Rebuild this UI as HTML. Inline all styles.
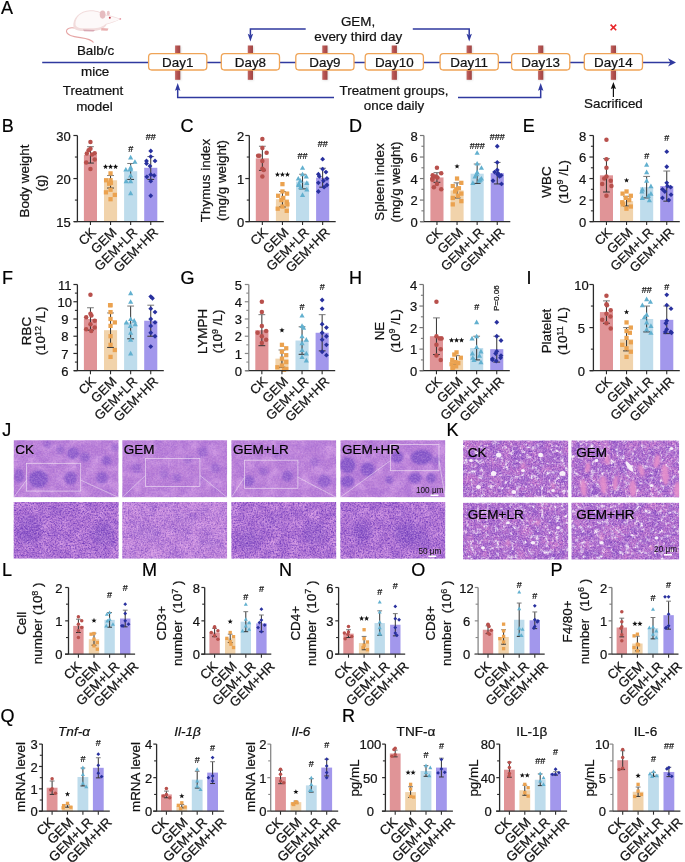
<!DOCTYPE html><html><head><meta charset="utf-8"><style>html,body{margin:0;padding:0;background:#fff;}svg{display:block;will-change:transform;font-family:"Liberation Sans",sans-serif;} text{stroke:#111;stroke-width:0.22px;paint-order:stroke;}</style></head><body><svg width="685" height="862" viewBox="0 0 685 862" font-family="Liberation Sans, sans-serif">
<defs>
<linearGradient id="rb" x1="0" x2="1" y1="0" y2="0"><stop offset="0" stop-color="#c06662"/><stop offset="0.5" stop-color="#b24f4d"/><stop offset="1" stop-color="#9e4644"/></linearGradient>
<filter id="blur3" x="-20%" y="-20%" width="140%" height="140%"><feGaussianBlur stdDeviation="0.9"/></filter>
<filter id="blur4" x="-30%" y="-30%" width="160%" height="160%"><feGaussianBlur stdDeviation="3"/></filter><filter id="blur05" x="-30%" y="-30%" width="160%" height="160%"><feGaussianBlur stdDeviation="0.45"/></filter><filter id="blur1" x="-20%" y="-20%" width="140%" height="140%"><feGaussianBlur stdDeviation="0.8"/></filter>
<filter id="nf0" x="0" y="0" width="100%" height="100%" color-interpolation-filters="sRGB"><feTurbulence type="fractalNoise" baseFrequency="0.08" numOctaves="3" seed="0" result="t0"/><feColorMatrix in="t0" type="matrix" values="0 0 0 0 0.667 0 0 0 0 0.439 0 0 0 0 0.831 1.5 0 0 0 -0.55" result="m0"/><feTurbulence type="fractalNoise" baseFrequency="0.09" numOctaves="3" seed="1" result="t1"/><feColorMatrix in="t1" type="matrix" values="0 0 0 0 0.855 0 0 0 0 0.647 0 0 0 0 0.910 0 1.7 0 0 -0.7" result="m1"/><feMerge><feMergeNode in="m0"/><feMergeNode in="m1"/></feMerge></filter>
<filter id="nf1" x="0" y="0" width="100%" height="100%" color-interpolation-filters="sRGB"><feTurbulence type="fractalNoise" baseFrequency="0.6" numOctaves="2" seed="250" result="t0"/><feColorMatrix in="t0" type="matrix" values="0 0 0 0 0.588 0 0 0 0 0.373 0 0 0 0 0.824 0 0 0.8 0 -0.3" result="m0"/><feTurbulence type="fractalNoise" baseFrequency="0.6" numOctaves="2" seed="251" result="t1"/><feColorMatrix in="t1" type="matrix" values="0 0 0 0 0.871 0 0 0 0 0.698 0 0 0 0 0.925 0.8 0 0 0 -0.3" result="m1"/><feMerge><feMergeNode in="m0"/><feMergeNode in="m1"/></feMerge></filter>
<filter id="nf2" x="0" y="0" width="100%" height="100%" color-interpolation-filters="sRGB"><feTurbulence type="fractalNoise" baseFrequency="0.08" numOctaves="3" seed="5" result="t0"/><feColorMatrix in="t0" type="matrix" values="0 0 0 0 0.667 0 0 0 0 0.439 0 0 0 0 0.831 1.5 0 0 0 -0.55" result="m0"/><feTurbulence type="fractalNoise" baseFrequency="0.09" numOctaves="3" seed="6" result="t1"/><feColorMatrix in="t1" type="matrix" values="0 0 0 0 0.855 0 0 0 0 0.647 0 0 0 0 0.910 0 1.7 0 0 -0.7" result="m1"/><feMerge><feMergeNode in="m0"/><feMergeNode in="m1"/></feMerge></filter>
<filter id="nf3" x="0" y="0" width="100%" height="100%" color-interpolation-filters="sRGB"><feTurbulence type="fractalNoise" baseFrequency="0.6" numOctaves="2" seed="255" result="t0"/><feColorMatrix in="t0" type="matrix" values="0 0 0 0 0.588 0 0 0 0 0.373 0 0 0 0 0.824 0 0 0.8 0 -0.3" result="m0"/><feTurbulence type="fractalNoise" baseFrequency="0.6" numOctaves="2" seed="256" result="t1"/><feColorMatrix in="t1" type="matrix" values="0 0 0 0 0.871 0 0 0 0 0.698 0 0 0 0 0.925 0.8 0 0 0 -0.3" result="m1"/><feMerge><feMergeNode in="m0"/><feMergeNode in="m1"/></feMerge></filter>
<filter id="nf4" x="0" y="0" width="100%" height="100%" color-interpolation-filters="sRGB"><feTurbulence type="fractalNoise" baseFrequency="0.08" numOctaves="3" seed="10" result="t0"/><feColorMatrix in="t0" type="matrix" values="0 0 0 0 0.667 0 0 0 0 0.439 0 0 0 0 0.831 1.5 0 0 0 -0.55" result="m0"/><feTurbulence type="fractalNoise" baseFrequency="0.09" numOctaves="3" seed="11" result="t1"/><feColorMatrix in="t1" type="matrix" values="0 0 0 0 0.855 0 0 0 0 0.647 0 0 0 0 0.910 0 1.7 0 0 -0.7" result="m1"/><feMerge><feMergeNode in="m0"/><feMergeNode in="m1"/></feMerge></filter>
<filter id="nf5" x="0" y="0" width="100%" height="100%" color-interpolation-filters="sRGB"><feTurbulence type="fractalNoise" baseFrequency="0.6" numOctaves="2" seed="260" result="t0"/><feColorMatrix in="t0" type="matrix" values="0 0 0 0 0.588 0 0 0 0 0.373 0 0 0 0 0.824 0 0 0.8 0 -0.3" result="m0"/><feTurbulence type="fractalNoise" baseFrequency="0.6" numOctaves="2" seed="261" result="t1"/><feColorMatrix in="t1" type="matrix" values="0 0 0 0 0.871 0 0 0 0 0.698 0 0 0 0 0.925 0.8 0 0 0 -0.3" result="m1"/><feMerge><feMergeNode in="m0"/><feMergeNode in="m1"/></feMerge></filter>
<filter id="nf6" x="0" y="0" width="100%" height="100%" color-interpolation-filters="sRGB"><feTurbulence type="fractalNoise" baseFrequency="0.08" numOctaves="3" seed="15" result="t0"/><feColorMatrix in="t0" type="matrix" values="0 0 0 0 0.667 0 0 0 0 0.439 0 0 0 0 0.831 1.5 0 0 0 -0.55" result="m0"/><feTurbulence type="fractalNoise" baseFrequency="0.09" numOctaves="3" seed="16" result="t1"/><feColorMatrix in="t1" type="matrix" values="0 0 0 0 0.855 0 0 0 0 0.647 0 0 0 0 0.910 0 1.7 0 0 -0.7" result="m1"/><feMerge><feMergeNode in="m0"/><feMergeNode in="m1"/></feMerge></filter>
<filter id="nf7" x="0" y="0" width="100%" height="100%" color-interpolation-filters="sRGB"><feTurbulence type="fractalNoise" baseFrequency="0.6" numOctaves="2" seed="265" result="t0"/><feColorMatrix in="t0" type="matrix" values="0 0 0 0 0.588 0 0 0 0 0.373 0 0 0 0 0.824 0 0 0.8 0 -0.3" result="m0"/><feTurbulence type="fractalNoise" baseFrequency="0.6" numOctaves="2" seed="266" result="t1"/><feColorMatrix in="t1" type="matrix" values="0 0 0 0 0.871 0 0 0 0 0.698 0 0 0 0 0.925 0.8 0 0 0 -0.3" result="m1"/><feMerge><feMergeNode in="m0"/><feMergeNode in="m1"/></feMerge></filter>
<filter id="nf8" x="0" y="0" width="100%" height="100%" color-interpolation-filters="sRGB"><feTurbulence type="fractalNoise" baseFrequency="0.1" numOctaves="3" seed="20" result="t0"/><feColorMatrix in="t0" type="matrix" values="0 0 0 0 0.588 0 0 0 0 0.373 0 0 0 0 0.804 1.5 0 0 0 -0.5" result="m0"/><feTurbulence type="fractalNoise" baseFrequency="0.1" numOctaves="3" seed="21" result="t1"/><feColorMatrix in="t1" type="matrix" values="0 0 0 0 0.871 0 0 0 0 0.647 0 0 0 0 0.910 0 1.8 0 0 -0.65" result="m1"/><feMerge><feMergeNode in="m0"/><feMergeNode in="m1"/></feMerge></filter>
<filter id="nf9" x="0" y="0" width="100%" height="100%" color-interpolation-filters="sRGB"><feTurbulence type="fractalNoise" baseFrequency="0.6" numOctaves="2" seed="270" result="t0"/><feColorMatrix in="t0" type="matrix" values="0 0 0 0 0.439 0 0 0 0 0.227 0 0 0 0 0.729 0 0 2.2 0 -0.8" result="m0"/><feTurbulence type="fractalNoise" baseFrequency="0.7" numOctaves="2" seed="271" result="t1"/><feColorMatrix in="t1" type="matrix" values="0 0 0 0 0.871 0 0 0 0 0.651 0 0 0 0 0.918 1.4 0 0 0 -0.55" result="m1"/><feMerge><feMergeNode in="m0"/><feMergeNode in="m1"/></feMerge></filter>
<filter id="nf10" x="0" y="0" width="100%" height="100%" color-interpolation-filters="sRGB"><feTurbulence type="fractalNoise" baseFrequency="0.1" numOctaves="3" seed="25" result="t0"/><feColorMatrix in="t0" type="matrix" values="0 0 0 0 0.588 0 0 0 0 0.373 0 0 0 0 0.804 1.5 0 0 0 -0.5" result="m0"/><feTurbulence type="fractalNoise" baseFrequency="0.1" numOctaves="3" seed="26" result="t1"/><feColorMatrix in="t1" type="matrix" values="0 0 0 0 0.871 0 0 0 0 0.647 0 0 0 0 0.910 0 1.8 0 0 -0.65" result="m1"/><feMerge><feMergeNode in="m0"/><feMergeNode in="m1"/></feMerge></filter>
<filter id="nf11" x="0" y="0" width="100%" height="100%" color-interpolation-filters="sRGB"><feTurbulence type="fractalNoise" baseFrequency="0.6" numOctaves="2" seed="275" result="t0"/><feColorMatrix in="t0" type="matrix" values="0 0 0 0 0.471 0 0 0 0 0.267 0 0 0 0 0.745 0 0 1.7 0 -0.68" result="m0"/><feTurbulence type="fractalNoise" baseFrequency="0.7" numOctaves="2" seed="276" result="t1"/><feColorMatrix in="t1" type="matrix" values="0 0 0 0 0.894 0 0 0 0 0.698 0 0 0 0 0.933 1.6 0 0 0 -0.62" result="m1"/><feMerge><feMergeNode in="m0"/><feMergeNode in="m1"/></feMerge></filter>
<filter id="nf12" x="0" y="0" width="100%" height="100%" color-interpolation-filters="sRGB"><feTurbulence type="fractalNoise" baseFrequency="0.1" numOctaves="3" seed="30" result="t0"/><feColorMatrix in="t0" type="matrix" values="0 0 0 0 0.588 0 0 0 0 0.373 0 0 0 0 0.804 1.5 0 0 0 -0.5" result="m0"/><feTurbulence type="fractalNoise" baseFrequency="0.1" numOctaves="3" seed="31" result="t1"/><feColorMatrix in="t1" type="matrix" values="0 0 0 0 0.871 0 0 0 0 0.647 0 0 0 0 0.910 0 1.8 0 0 -0.65" result="m1"/><feMerge><feMergeNode in="m0"/><feMergeNode in="m1"/></feMerge></filter>
<filter id="nf13" x="0" y="0" width="100%" height="100%" color-interpolation-filters="sRGB"><feTurbulence type="fractalNoise" baseFrequency="0.6" numOctaves="2" seed="280" result="t0"/><feColorMatrix in="t0" type="matrix" values="0 0 0 0 0.439 0 0 0 0 0.227 0 0 0 0 0.729 0 0 2.2 0 -0.8" result="m0"/><feTurbulence type="fractalNoise" baseFrequency="0.7" numOctaves="2" seed="281" result="t1"/><feColorMatrix in="t1" type="matrix" values="0 0 0 0 0.871 0 0 0 0 0.651 0 0 0 0 0.918 1.4 0 0 0 -0.55" result="m1"/><feMerge><feMergeNode in="m0"/><feMergeNode in="m1"/></feMerge></filter>
<filter id="nf14" x="0" y="0" width="100%" height="100%" color-interpolation-filters="sRGB"><feTurbulence type="fractalNoise" baseFrequency="0.1" numOctaves="3" seed="35" result="t0"/><feColorMatrix in="t0" type="matrix" values="0 0 0 0 0.588 0 0 0 0 0.373 0 0 0 0 0.804 1.5 0 0 0 -0.5" result="m0"/><feTurbulence type="fractalNoise" baseFrequency="0.1" numOctaves="3" seed="36" result="t1"/><feColorMatrix in="t1" type="matrix" values="0 0 0 0 0.871 0 0 0 0 0.647 0 0 0 0 0.910 0 1.8 0 0 -0.65" result="m1"/><feMerge><feMergeNode in="m0"/><feMergeNode in="m1"/></feMerge></filter>
<filter id="nf15" x="0" y="0" width="100%" height="100%" color-interpolation-filters="sRGB"><feTurbulence type="fractalNoise" baseFrequency="0.6" numOctaves="2" seed="285" result="t0"/><feColorMatrix in="t0" type="matrix" values="0 0 0 0 0.439 0 0 0 0 0.227 0 0 0 0 0.729 0 0 2.2 0 -0.8" result="m0"/><feTurbulence type="fractalNoise" baseFrequency="0.7" numOctaves="2" seed="286" result="t1"/><feColorMatrix in="t1" type="matrix" values="0 0 0 0 0.871 0 0 0 0 0.651 0 0 0 0 0.918 1.4 0 0 0 -0.55" result="m1"/><feMerge><feMergeNode in="m0"/><feMergeNode in="m1"/></feMerge></filter>
<filter id="nf16" x="0" y="0" width="100%" height="100%" color-interpolation-filters="sRGB"><feTurbulence type="fractalNoise" baseFrequency="0.1" numOctaves="3" seed="40" result="t0"/><feColorMatrix in="t0" type="matrix" values="0 0 0 0 0.529 0 0 0 0 0.306 0 0 0 0 0.765 1.5 0 0 0 -0.5" result="m0"/><feTurbulence type="fractalNoise" baseFrequency="0.08" numOctaves="2" seed="41" result="t1"/><feColorMatrix in="t1" type="matrix" values="0 0 0 0 0.863 0 0 0 0 0.510 0 0 0 0 0.804 0 1.6 0 0 -0.65" result="m1"/><feTurbulence type="fractalNoise" baseFrequency="0.2" numOctaves="3" seed="42" result="t2"/><feColorMatrix in="t2" type="matrix" values="0 0 0 0 0.980 0 0 0 0 0.941 0 0 0 0 0.980 0 0 4.2 0 -2.3" result="m2"/><feTurbulence type="fractalNoise" baseFrequency="0.35" numOctaves="2" seed="43" result="t3"/><feColorMatrix in="t3" type="matrix" values="0 0 0 0 0.973 0 0 0 0 0.922 0 0 0 0 0.980 3 0 0 0 -1.72" result="m3"/><feMerge><feMergeNode in="m0"/><feMergeNode in="m1"/><feMergeNode in="m2"/><feMergeNode in="m3"/></feMerge></filter>
<filter id="nf17" x="0" y="0" width="100%" height="100%" color-interpolation-filters="sRGB"><feTurbulence type="fractalNoise" baseFrequency="0.55" numOctaves="2" seed="290" result="t0"/><feColorMatrix in="t0" type="matrix" values="0 0 0 0 0.451 0 0 0 0 0.235 0 0 0 0 0.725 0 1.8 0 0 -0.72" result="m0"/><feTurbulence type="fractalNoise" baseFrequency="0.8" numOctaves="2" seed="291" result="t1"/><feColorMatrix in="t1" type="matrix" values="0 0 0 0 0.922 0 0 0 0 0.765 0 0 0 0 0.941 1.2 0 0 0 -0.5" result="m1"/><feMerge><feMergeNode in="m0"/><feMergeNode in="m1"/></feMerge></filter>
<filter id="nf18" x="0" y="0" width="100%" height="100%" color-interpolation-filters="sRGB"><feTurbulence type="fractalNoise" baseFrequency="0.1" numOctaves="3" seed="45" result="t0"/><feColorMatrix in="t0" type="matrix" values="0 0 0 0 0.529 0 0 0 0 0.306 0 0 0 0 0.765 1.5 0 0 0 -0.5" result="m0"/><feTurbulence type="fractalNoise" baseFrequency="0.08" numOctaves="2" seed="46" result="t1"/><feColorMatrix in="t1" type="matrix" values="0 0 0 0 0.863 0 0 0 0 0.510 0 0 0 0 0.804 0 1.6 0 0 -0.65" result="m1"/><feTurbulence type="fractalNoise" baseFrequency="0.2" numOctaves="3" seed="47" result="t2"/><feColorMatrix in="t2" type="matrix" values="0 0 0 0 0.980 0 0 0 0 0.941 0 0 0 0 0.980 0 0 4.2 0 -2.3" result="m2"/><feTurbulence type="fractalNoise" baseFrequency="0.35" numOctaves="2" seed="48" result="t3"/><feColorMatrix in="t3" type="matrix" values="0 0 0 0 0.973 0 0 0 0 0.922 0 0 0 0 0.980 3 0 0 0 -1.72" result="m3"/><feMerge><feMergeNode in="m0"/><feMergeNode in="m1"/><feMergeNode in="m2"/><feMergeNode in="m3"/></feMerge></filter>
<filter id="nf19" x="0" y="0" width="100%" height="100%" color-interpolation-filters="sRGB"><feTurbulence type="fractalNoise" baseFrequency="0.55" numOctaves="2" seed="295" result="t0"/><feColorMatrix in="t0" type="matrix" values="0 0 0 0 0.451 0 0 0 0 0.235 0 0 0 0 0.725 0 1.8 0 0 -0.72" result="m0"/><feTurbulence type="fractalNoise" baseFrequency="0.8" numOctaves="2" seed="296" result="t1"/><feColorMatrix in="t1" type="matrix" values="0 0 0 0 0.922 0 0 0 0 0.765 0 0 0 0 0.941 1.2 0 0 0 -0.5" result="m1"/><feMerge><feMergeNode in="m0"/><feMergeNode in="m1"/></feMerge></filter>
<filter id="nf20" x="0" y="0" width="100%" height="100%" color-interpolation-filters="sRGB"><feTurbulence type="fractalNoise" baseFrequency="0.1" numOctaves="3" seed="50" result="t0"/><feColorMatrix in="t0" type="matrix" values="0 0 0 0 0.529 0 0 0 0 0.306 0 0 0 0 0.765 1.5 0 0 0 -0.5" result="m0"/><feTurbulence type="fractalNoise" baseFrequency="0.08" numOctaves="2" seed="51" result="t1"/><feColorMatrix in="t1" type="matrix" values="0 0 0 0 0.863 0 0 0 0 0.510 0 0 0 0 0.804 0 1.6 0 0 -0.65" result="m1"/><feTurbulence type="fractalNoise" baseFrequency="0.2" numOctaves="3" seed="52" result="t2"/><feColorMatrix in="t2" type="matrix" values="0 0 0 0 0.980 0 0 0 0 0.941 0 0 0 0 0.980 0 0 4.2 0 -2.3" result="m2"/><feTurbulence type="fractalNoise" baseFrequency="0.35" numOctaves="2" seed="53" result="t3"/><feColorMatrix in="t3" type="matrix" values="0 0 0 0 0.973 0 0 0 0 0.922 0 0 0 0 0.980 3 0 0 0 -1.72" result="m3"/><feMerge><feMergeNode in="m0"/><feMergeNode in="m1"/><feMergeNode in="m2"/><feMergeNode in="m3"/></feMerge></filter>
<filter id="nf21" x="0" y="0" width="100%" height="100%" color-interpolation-filters="sRGB"><feTurbulence type="fractalNoise" baseFrequency="0.55" numOctaves="2" seed="300" result="t0"/><feColorMatrix in="t0" type="matrix" values="0 0 0 0 0.451 0 0 0 0 0.235 0 0 0 0 0.725 0 1.8 0 0 -0.72" result="m0"/><feTurbulence type="fractalNoise" baseFrequency="0.8" numOctaves="2" seed="301" result="t1"/><feColorMatrix in="t1" type="matrix" values="0 0 0 0 0.922 0 0 0 0 0.765 0 0 0 0 0.941 1.2 0 0 0 -0.5" result="m1"/><feMerge><feMergeNode in="m0"/><feMergeNode in="m1"/></feMerge></filter>
<filter id="nf22" x="0" y="0" width="100%" height="100%" color-interpolation-filters="sRGB"><feTurbulence type="fractalNoise" baseFrequency="0.1" numOctaves="3" seed="55" result="t0"/><feColorMatrix in="t0" type="matrix" values="0 0 0 0 0.529 0 0 0 0 0.306 0 0 0 0 0.765 1.5 0 0 0 -0.5" result="m0"/><feTurbulence type="fractalNoise" baseFrequency="0.08" numOctaves="2" seed="56" result="t1"/><feColorMatrix in="t1" type="matrix" values="0 0 0 0 0.863 0 0 0 0 0.510 0 0 0 0 0.804 0 1.6 0 0 -0.65" result="m1"/><feTurbulence type="fractalNoise" baseFrequency="0.2" numOctaves="3" seed="57" result="t2"/><feColorMatrix in="t2" type="matrix" values="0 0 0 0 0.980 0 0 0 0 0.941 0 0 0 0 0.980 0 0 4.2 0 -2.3" result="m2"/><feTurbulence type="fractalNoise" baseFrequency="0.35" numOctaves="2" seed="58" result="t3"/><feColorMatrix in="t3" type="matrix" values="0 0 0 0 0.973 0 0 0 0 0.922 0 0 0 0 0.980 3 0 0 0 -1.72" result="m3"/><feMerge><feMergeNode in="m0"/><feMergeNode in="m1"/><feMergeNode in="m2"/><feMergeNode in="m3"/></feMerge></filter>
<filter id="nf23" x="0" y="0" width="100%" height="100%" color-interpolation-filters="sRGB"><feTurbulence type="fractalNoise" baseFrequency="0.55" numOctaves="2" seed="305" result="t0"/><feColorMatrix in="t0" type="matrix" values="0 0 0 0 0.451 0 0 0 0 0.235 0 0 0 0 0.725 0 1.8 0 0 -0.72" result="m0"/><feTurbulence type="fractalNoise" baseFrequency="0.8" numOctaves="2" seed="306" result="t1"/><feColorMatrix in="t1" type="matrix" values="0 0 0 0 0.922 0 0 0 0 0.765 0 0 0 0 0.941 1.2 0 0 0 -0.5" result="m1"/><feMerge><feMergeNode in="m0"/><feMergeNode in="m1"/></feMerge></filter>
</defs>
<rect width="685" height="862" fill="#fff"/>
<g>
<path d="M75 28 C66 26.5 63.5 32.5 70.5 35.5 C78 38.5 90 37 93.5 42.5" stroke="#e6a5a5" stroke-width="1.1" fill="none"/>
<path d="M73.5 27.5 C72 18 80 10.8 90 10.3 C97 10 101 12.5 104 14.3 C110 15.3 116 17 120.6 18.9 C116.5 21.6 111 23.2 106.5 24.6 C105 28.5 100 30.8 94 31 L81 31 C77 30.6 74 29.5 73.5 27.5 Z" fill="#f2dcdc"/>
<path d="M75.5 25 C75 17 81 11.8 90 11.3 C97 11 101 13.5 104 15.2 C110 16.2 115.5 17.6 119.5 19.2 C115.5 21.2 110.5 22.6 106 23.8 C103 27 98 28.3 92 28.3 L82 28.3 C78.5 28 76 27 75.5 25 Z" fill="#fdf9f9"/>
<ellipse cx="102.6" cy="14.6" rx="2.9" ry="4.1" fill="#e6bcc0"/>
<ellipse cx="108.3" cy="13.2" rx="1.5" ry="2.4" fill="#ebc6c9"/>
<circle cx="109.8" cy="17.7" r="1.0" fill="#c23a4a"/>
<circle cx="120.3" cy="18.9" r="0.9" fill="#e79aa6"/>
<path d="M101.5 28 L108.5 28.4 L107.5 30.8 L101 30.6Z" fill="#e9b0b0"/>
<path d="M83 29.6 L95 30 L93.5 31.6 L84 31.3Z" fill="#d9a9b4"/>
</g>
<text x="95.5" y="55" font-size="13.4" text-anchor="middle" fill="#111" >Balb/c</text>
<text x="95.2" y="75.8" font-size="13.4" text-anchor="middle" fill="#111" >mice</text>
<text x="93" y="94.5" font-size="13.4" text-anchor="middle" fill="#111" >Treatment</text>
<text x="94.4" y="110.5" font-size="13.4" text-anchor="middle" fill="#111" >model</text>
<path d="M42.2 62.4H671" stroke="#2f399f" stroke-width="1.5"/>
<path d="M676 62.4 L668 58.2 L670.4 62.4 L668 66.6Z" fill="#2f399f"/>
<rect x="175.5" y="46.3" width="5.6" height="34" fill="#9a9a9a" opacity="0.35" filter="url(#blur1)"/>
<rect x="175.1" y="45.5" width="5.2" height="34.3" fill="url(#rb)"/>
<rect x="248.2" y="46.3" width="5.6" height="34" fill="#9a9a9a" opacity="0.35" filter="url(#blur1)"/>
<rect x="247.8" y="45.5" width="5.2" height="34.3" fill="url(#rb)"/>
<rect x="322.7" y="46.3" width="5.6" height="34" fill="#9a9a9a" opacity="0.35" filter="url(#blur1)"/>
<rect x="322.3" y="45.5" width="5.2" height="34.3" fill="url(#rb)"/>
<rect x="392.1" y="46.3" width="5.6" height="34" fill="#9a9a9a" opacity="0.35" filter="url(#blur1)"/>
<rect x="391.7" y="45.5" width="5.2" height="34.3" fill="url(#rb)"/>
<rect x="467" y="46.3" width="5.6" height="34" fill="#9a9a9a" opacity="0.35" filter="url(#blur1)"/>
<rect x="466.6" y="45.5" width="5.2" height="34.3" fill="url(#rb)"/>
<rect x="538.5" y="46.3" width="5.6" height="34" fill="#9a9a9a" opacity="0.35" filter="url(#blur1)"/>
<rect x="538.1" y="45.5" width="5.2" height="34.3" fill="url(#rb)"/>
<rect x="611.2" y="46.3" width="5.6" height="34" fill="#9a9a9a" opacity="0.35" filter="url(#blur1)"/>
<rect x="610.8" y="45.5" width="5.2" height="34.3" fill="url(#rb)"/>
<rect x="148.6" y="53.7" width="58.2" height="16.3" rx="3.2" fill="#fff" stroke="#efa457" stroke-width="1.3"/>
<text x="177.7" y="66.9" font-size="13.4" text-anchor="middle" fill="#111" >Day1</text>
<rect x="221.3" y="53.7" width="58.2" height="16.3" rx="3.2" fill="#fff" stroke="#efa457" stroke-width="1.3"/>
<text x="250.4" y="66.9" font-size="13.4" text-anchor="middle" fill="#111" >Day8</text>
<rect x="295.8" y="53.7" width="58.2" height="16.3" rx="3.2" fill="#fff" stroke="#efa457" stroke-width="1.3"/>
<text x="324.9" y="66.9" font-size="13.4" text-anchor="middle" fill="#111" >Day9</text>
<rect x="365.2" y="53.7" width="58.2" height="16.3" rx="3.2" fill="#fff" stroke="#efa457" stroke-width="1.3"/>
<text x="394.3" y="66.9" font-size="13.4" text-anchor="middle" fill="#111" >Day10</text>
<rect x="440.1" y="53.7" width="58.2" height="16.3" rx="3.2" fill="#fff" stroke="#efa457" stroke-width="1.3"/>
<text x="469.2" y="66.9" font-size="13.4" text-anchor="middle" fill="#111" >Day11</text>
<rect x="511.6" y="53.7" width="58.2" height="16.3" rx="3.2" fill="#fff" stroke="#efa457" stroke-width="1.3"/>
<text x="540.7" y="66.9" font-size="13.4" text-anchor="middle" fill="#111" >Day13</text>
<rect x="584.3" y="53.7" width="58.2" height="16.3" rx="3.2" fill="#fff" stroke="#efa457" stroke-width="1.3"/>
<text x="613.4" y="66.9" font-size="13.4" text-anchor="middle" fill="#111" >Day14</text>
<path d="M250.4 35 V29 H305.7 M412.8 29 H469.2 V35" stroke="#2f399f" stroke-width="1.5" fill="none"/>
<path d="M250.4 41.6 L247.7 33.8 L250.4 35.2 L253.1 33.8Z" fill="#2f399f"/>
<path d="M469.2 41.6 L466.5 33.8 L469.2 35.2 L471.9 33.8Z" fill="#2f399f"/>
<text x="358" y="26" font-size="13.4" text-anchor="middle" fill="#111" >GEM,</text>
<text x="358.2" y="40.6" font-size="13.4" text-anchor="middle" fill="#111" >every third day</text>
<path d="M177.7 89 V97.6 H334 M458 97.6 H540.7 V89" stroke="#2f399f" stroke-width="1.5" fill="none"/>
<path d="M177.7 83 L175 90.8 L177.7 89.4 L180.4 90.8Z" fill="#2f399f"/>
<path d="M540.7 83 L538 90.8 L540.7 89.4 L543.4 90.8Z" fill="#2f399f"/>
<text x="394" y="94.6" font-size="13.4" text-anchor="middle" fill="#111" >Treatment groups,</text>
<text x="394" y="109.5" font-size="13.4" text-anchor="middle" fill="#111" >once daily</text>
<path d="M613.4 97 V88" stroke="#111" stroke-width="1.2"/>
<path d="M613.4 82 L610.8 89 L613.4 88 L616 89Z" fill="#111"/>
<text x="613.4" y="107.6" font-size="13.4" text-anchor="middle" fill="#111" >Sacrificed</text>
<path d="M610.6 24.6 L616.2 30.2 M616.2 24.6 L610.6 30.2" stroke="#e8262a" stroke-width="1.6"/>
<rect x="83.9" y="154.87" width="13.1" height="66.73" fill="#e09497"/>
<rect x="104" y="180.27" width="13.1" height="41.33" fill="#f1d3ab"/>
<rect x="124.1" y="171.23" width="13.1" height="50.37" fill="#bedcec"/>
<rect x="144.2" y="167.79" width="13.1" height="53.81" fill="#a297ec"/>
<path d="M90.45 146.69V163.05M87.05 163.05H93.85" stroke="#333" stroke-width="1" fill="none"/>
<path d="M87.05 146.69H93.85" stroke="#777" stroke-width="1" fill="none"/>
<circle cx="90.45" cy="141.96" r="2.25" fill="#b8504c"/>
<circle cx="90.45" cy="148.85" r="2.25" fill="#b8504c"/>
<circle cx="88.62" cy="150.14" r="2.25" fill="#b8504c"/>
<circle cx="94.73" cy="153.15" r="2.25" fill="#b8504c"/>
<circle cx="86.82" cy="153.58" r="2.25" fill="#b8504c"/>
<circle cx="92.02" cy="154.44" r="2.25" fill="#b8504c"/>
<circle cx="94.73" cy="159.61" r="2.25" fill="#b8504c"/>
<circle cx="86.17" cy="162.62" r="2.25" fill="#b8504c"/>
<circle cx="90.45" cy="169.08" r="2.25" fill="#b8504c"/>
<path d="M110.55 175.54V188.02M107.15 188.02H113.95" stroke="#333" stroke-width="1" fill="none"/>
<path d="M107.15 175.54H113.95" stroke="#777" stroke-width="1" fill="none"/>
<rect x="108.41" y="171.25" width="4.27" height="4.27" fill="#eba24f"/>
<rect x="108.41" y="178.13" width="4.27" height="4.27" fill="#eba24f"/>
<rect x="103.97" y="178.13" width="4.27" height="4.27" fill="#eba24f"/>
<rect x="108.79" y="180.72" width="4.27" height="4.27" fill="#eba24f"/>
<rect x="107.02" y="181.58" width="4.27" height="4.27" fill="#eba24f"/>
<rect x="108.41" y="187.61" width="4.27" height="4.27" fill="#eba24f"/>
<rect x="103.82" y="190.19" width="4.27" height="4.27" fill="#eba24f"/>
<rect x="112.69" y="192.77" width="4.27" height="4.27" fill="#eba24f"/>
<rect x="108.41" y="197.08" width="4.27" height="4.27" fill="#eba24f"/>
<path d="M105.55 164.05L106.23 165.87L108.17 165.95L106.64 167.16L107.17 169.02L105.55 167.95L103.93 169.02L104.46 167.16L102.93 165.95L104.87 165.87Z" fill="#111"/>
<path d="M110.55 164.05L111.23 165.87L113.17 165.95L111.64 167.16L112.17 169.02L110.55 167.95L108.93 169.02L109.46 167.16L107.93 165.95L109.87 165.87Z" fill="#111"/>
<path d="M115.55 164.05L116.23 165.87L118.17 165.95L116.64 167.16L117.17 169.02L115.55 167.95L113.93 169.02L114.46 167.16L112.93 165.95L114.87 165.87Z" fill="#111"/>
<path d="M130.65 163.48V179.41M127.25 179.41H134.05" stroke="#333" stroke-width="1" fill="none"/>
<path d="M127.25 163.48H134.05" stroke="#777" stroke-width="1" fill="none"/>
<path d="M130.65 154.87L133.24 159.53L128.06 159.53Z" fill="#62b0cf"/>
<path d="M134.93 159.17L137.51 163.83L132.34 163.83Z" fill="#62b0cf"/>
<path d="M130.65 164.77L133.24 169.43L128.06 169.43Z" fill="#62b0cf"/>
<path d="M130.73 166.06L133.31 170.72L128.14 170.72Z" fill="#62b0cf"/>
<path d="M125.84 166.92L128.43 171.58L123.25 171.58Z" fill="#62b0cf"/>
<path d="M129.96 166.92L132.55 171.58L127.37 171.58Z" fill="#62b0cf"/>
<path d="M130.65 172.95L133.24 177.61L128.06 177.61Z" fill="#62b0cf"/>
<path d="M130.65 178.55L133.24 183.2L128.06 183.2Z" fill="#62b0cf"/>
<path d="M126.18 178.55L128.76 183.2L123.59 183.2Z" fill="#62b0cf"/>
<path d="M130.65 190.6L133.24 195.26L128.06 195.26Z" fill="#62b0cf"/>
<text x="130.65" y="151.6" font-size="9" text-anchor="middle" fill="#111" >#</text>
<path d="M150.75 156.59V179.41M147.35 179.41H154.15" stroke="#333" stroke-width="1" fill="none"/>
<path d="M147.35 156.59H154.15" stroke="#777" stroke-width="1" fill="none"/>
<path d="M150.75 148.57L153.18 151L150.75 153.43L148.32 151Z" fill="#28309e"/>
<path d="M150.75 154.16L153.18 156.59L150.75 159.02L148.32 156.59Z" fill="#28309e"/>
<path d="M155.03 158.47L157.46 160.9L155.03 163.33L152.6 160.9Z" fill="#28309e"/>
<path d="M146.48 158.47L148.91 160.9L146.48 163.33L144.05 160.9Z" fill="#28309e"/>
<path d="M146.49 161.05L148.92 163.48L146.49 165.91L144.06 163.48Z" fill="#28309e"/>
<path d="M149.96 163.64L152.39 166.07L149.96 168.5L147.53 166.07Z" fill="#28309e"/>
<path d="M150.75 172.25L153.18 174.68L150.75 177.11L148.32 174.68Z" fill="#28309e"/>
<path d="M154.15 173.11L156.58 175.54L154.15 177.97L151.72 175.54Z" fill="#28309e"/>
<path d="M146.84 174.4L149.27 176.83L146.84 179.26L144.41 176.83Z" fill="#28309e"/>
<path d="M150.75 178.7L153.18 181.13L150.75 183.56L148.32 181.13Z" fill="#28309e"/>
<path d="M150.75 193.34L153.18 195.77L150.75 198.2L148.32 195.77Z" fill="#28309e"/>
<text x="150.75" y="140" font-size="9" text-anchor="middle" fill="#111" >##</text>
<path d="M77.4 135.5V221.6" stroke="#2b2b2b" stroke-width="1.3" fill="none"/>
<path d="M73.9 221.6H163.8" stroke="#2b2b2b" stroke-width="1.3" fill="none"/>
<path d="M73.4 135.5H77.4" stroke="#2b2b2b" stroke-width="1.2"/>
<text x="63.4" y="140.7" font-size="13" text-anchor="middle" fill="#111" >30</text>
<path d="M73.4 178.55H77.4" stroke="#2b2b2b" stroke-width="1.2"/>
<text x="63.4" y="183.75" font-size="13" text-anchor="middle" fill="#111" >20</text>
<path d="M73.4 221.6H77.4" stroke="#2b2b2b" stroke-width="1.2"/>
<text x="63.4" y="226.8" font-size="13" text-anchor="middle" fill="#111" >15</text>
<path d="M74.9 157.03H77.4" stroke="#2b2b2b" stroke-width="1.1"/>
<path d="M74.9 200.08H77.4" stroke="#2b2b2b" stroke-width="1.1"/>
<path d="M90.45 221.6V225.1" stroke="#2b2b2b" stroke-width="1.1"/>
<text transform="translate(96.75,233.2) rotate(-45)" font-size="13.1" text-anchor="end" fill="#111" >CK</text>
<path d="M110.55 221.6V225.1" stroke="#2b2b2b" stroke-width="1.1"/>
<text transform="translate(117.45,233.2) rotate(-45)" font-size="13.1" text-anchor="end" fill="#111" >GEM</text>
<path d="M130.65 221.6V225.1" stroke="#2b2b2b" stroke-width="1.1"/>
<text transform="translate(138.15,233.2) rotate(-45)" font-size="13.1" text-anchor="end" fill="#111" >GEM+LR</text>
<path d="M150.75 221.6V225.1" stroke="#2b2b2b" stroke-width="1.1"/>
<text transform="translate(158.85,233.2) rotate(-45)" font-size="13.1" text-anchor="end" fill="#111" >GEM+HR</text>
<text transform="translate(29.4,181) rotate(-90)" font-size="13.4" text-anchor="middle" fill="#111" >Body weight</text>
<text transform="translate(44.7,183) rotate(-90)" font-size="13.4" text-anchor="middle" fill="#111" >(g)</text>
<rect x="255.8" y="158.32" width="13.1" height="63.28" fill="#e09497"/>
<rect x="275.9" y="199.21" width="13.1" height="22.39" fill="#f1d3ab"/>
<rect x="296" y="181.56" width="13.1" height="40.04" fill="#bedcec"/>
<rect x="316.1" y="177.69" width="13.1" height="43.91" fill="#a297ec"/>
<path d="M262.35 146.26V170.37M258.95 170.37H265.75" stroke="#333" stroke-width="1" fill="none"/>
<path d="M258.95 146.26H265.75" stroke="#777" stroke-width="1" fill="none"/>
<circle cx="262.35" cy="138.94" r="2.25" fill="#b8504c"/>
<circle cx="262.35" cy="147.98" r="2.25" fill="#b8504c"/>
<circle cx="266.62" cy="152.72" r="2.25" fill="#b8504c"/>
<circle cx="258.08" cy="155.73" r="2.25" fill="#b8504c"/>
<circle cx="259.47" cy="155.73" r="2.25" fill="#b8504c"/>
<circle cx="262.35" cy="160.9" r="2.25" fill="#b8504c"/>
<circle cx="262.35" cy="168.65" r="2.25" fill="#b8504c"/>
<circle cx="263.68" cy="169.94" r="2.25" fill="#b8504c"/>
<circle cx="262.35" cy="176.4" r="2.25" fill="#b8504c"/>
<path d="M282.45 191.47V206.96M279.05 206.96H285.85" stroke="#333" stroke-width="1" fill="none"/>
<path d="M279.05 191.47H285.85" stroke="#777" stroke-width="1" fill="none"/>
<rect x="280.31" y="182.01" width="4.27" height="4.27" fill="#eba24f"/>
<rect x="280.31" y="189.33" width="4.27" height="4.27" fill="#eba24f"/>
<rect x="284.97" y="191.48" width="4.27" height="4.27" fill="#eba24f"/>
<rect x="276.04" y="193.63" width="4.27" height="4.27" fill="#eba24f"/>
<rect x="281.11" y="195.78" width="4.27" height="4.27" fill="#eba24f"/>
<rect x="279.24" y="197.94" width="4.27" height="4.27" fill="#eba24f"/>
<rect x="284.59" y="200.09" width="4.27" height="4.27" fill="#eba24f"/>
<rect x="285.27" y="202.24" width="4.27" height="4.27" fill="#eba24f"/>
<rect x="280.31" y="204.4" width="4.27" height="4.27" fill="#eba24f"/>
<rect x="275.6" y="206.55" width="4.27" height="4.27" fill="#eba24f"/>
<rect x="284.59" y="208.7" width="4.27" height="4.27" fill="#eba24f"/>
<path d="M277.45 171.85L278.13 173.67L280.07 173.75L278.54 174.96L279.07 176.82L277.45 175.75L275.83 176.82L276.36 174.96L274.83 173.75L276.77 173.67Z" fill="#111"/>
<path d="M282.45 171.85L283.13 173.67L285.07 173.75L283.54 174.96L284.07 176.82L282.45 175.75L280.83 176.82L281.36 174.96L279.83 173.75L281.77 173.67Z" fill="#111"/>
<path d="M287.45 171.85L288.13 173.67L290.07 173.75L288.54 174.96L289.07 176.82L287.45 175.75L285.83 176.82L286.36 174.96L284.83 173.75L286.77 173.67Z" fill="#111"/>
<path d="M302.55 174.25V188.88M299.15 188.88H305.95" stroke="#333" stroke-width="1" fill="none"/>
<path d="M299.15 174.25H305.95" stroke="#777" stroke-width="1" fill="none"/>
<path d="M302.55 165.2L305.14 169.86L299.96 169.86Z" fill="#62b0cf"/>
<path d="M302.55 171.66L305.14 176.31L299.96 176.31Z" fill="#62b0cf"/>
<path d="M306.28 173.81L308.87 178.47L303.69 178.47Z" fill="#62b0cf"/>
<path d="M298.28 175.96L300.86 180.62L295.69 180.62Z" fill="#62b0cf"/>
<path d="M300.36 178.11L302.95 182.77L297.77 182.77Z" fill="#62b0cf"/>
<path d="M306.82 180.27L309.41 184.92L304.24 184.92Z" fill="#62b0cf"/>
<path d="M298.85 181.13L301.44 185.79L296.26 185.79Z" fill="#62b0cf"/>
<path d="M298.58 182.42L301.16 187.08L295.99 187.08Z" fill="#62b0cf"/>
<path d="M300.56 184.57L303.15 189.23L297.97 189.23Z" fill="#62b0cf"/>
<path d="M306.82 186.72L309.41 191.38L304.24 191.38Z" fill="#62b0cf"/>
<path d="M302.55 192.32L305.14 196.98L299.96 196.98Z" fill="#62b0cf"/>
<text x="302.55" y="159.1" font-size="9" text-anchor="middle" fill="#111" >##</text>
<path d="M322.65 168.22V187.16M319.25 187.16H326.05" stroke="#333" stroke-width="1" fill="none"/>
<path d="M319.25 168.22H326.05" stroke="#777" stroke-width="1" fill="none"/>
<path d="M322.65 156.75L325.08 159.18L322.65 161.61L320.22 159.18Z" fill="#28309e"/>
<path d="M322.65 166.65L325.08 169.08L322.65 171.51L320.22 169.08Z" fill="#28309e"/>
<path d="M325.94 169.66L328.37 172.09L325.94 174.52L323.51 172.09Z" fill="#28309e"/>
<path d="M318.38 171.81L320.81 174.25L318.38 176.68L315.95 174.25Z" fill="#28309e"/>
<path d="M319.33 173.97L321.76 176.4L319.33 178.83L316.9 176.4Z" fill="#28309e"/>
<path d="M326.93 176.12L329.36 178.55L326.93 180.98L324.5 178.55Z" fill="#28309e"/>
<path d="M323.5 178.27L325.93 180.7L323.5 183.13L321.07 180.7Z" fill="#28309e"/>
<path d="M318.38 180.42L320.81 182.85L318.38 185.28L315.95 182.85Z" fill="#28309e"/>
<path d="M326.93 182.58L329.36 185.01L326.93 187.44L324.5 185.01Z" fill="#28309e"/>
<path d="M324.09 184.73L326.52 187.16L324.09 189.59L321.66 187.16Z" fill="#28309e"/>
<path d="M318.38 189.03L320.81 191.47L318.38 193.9L315.95 191.47Z" fill="#28309e"/>
<text x="322.65" y="146.8" font-size="9" text-anchor="middle" fill="#111" >##</text>
<path d="M249.3 135.5V221.6" stroke="#2b2b2b" stroke-width="1.3" fill="none"/>
<path d="M245.8 221.6H335.7" stroke="#2b2b2b" stroke-width="1.3" fill="none"/>
<path d="M245.3 135.5H249.3" stroke="#2b2b2b" stroke-width="1.2"/>
<text x="240.6" y="140.7" font-size="13" text-anchor="middle" fill="#111" >2</text>
<path d="M245.3 178.55H249.3" stroke="#2b2b2b" stroke-width="1.2"/>
<text x="240.6" y="183.75" font-size="13" text-anchor="middle" fill="#111" >1</text>
<path d="M245.3 221.6H249.3" stroke="#2b2b2b" stroke-width="1.2"/>
<text x="240.6" y="226.8" font-size="13" text-anchor="middle" fill="#111" >0</text>
<path d="M246.8 157.03H249.3" stroke="#2b2b2b" stroke-width="1.1"/>
<path d="M246.8 200.07H249.3" stroke="#2b2b2b" stroke-width="1.1"/>
<path d="M262.35 221.6V225.1" stroke="#2b2b2b" stroke-width="1.1"/>
<text transform="translate(268.65,233.2) rotate(-45)" font-size="13.1" text-anchor="end" fill="#111" >CK</text>
<path d="M282.45 221.6V225.1" stroke="#2b2b2b" stroke-width="1.1"/>
<text transform="translate(289.35,233.2) rotate(-45)" font-size="13.1" text-anchor="end" fill="#111" >GEM</text>
<path d="M302.55 221.6V225.1" stroke="#2b2b2b" stroke-width="1.1"/>
<text transform="translate(310.05,233.2) rotate(-45)" font-size="13.1" text-anchor="end" fill="#111" >GEM+LR</text>
<path d="M322.65 221.6V225.1" stroke="#2b2b2b" stroke-width="1.1"/>
<text transform="translate(330.75,233.2) rotate(-45)" font-size="13.1" text-anchor="end" fill="#111" >GEM+HR</text>
<text transform="translate(209.7,180.5) rotate(-90)" font-size="13.4" text-anchor="middle" fill="#111" >Thymus index</text>
<text transform="translate(225.7,180.5) rotate(-90)" font-size="13.4" text-anchor="middle" fill="#111" >(mg/g weight)</text>
<rect x="430.4" y="177.47" width="13.1" height="44.13" fill="#e09497"/>
<rect x="450.5" y="190.39" width="13.1" height="31.21" fill="#f1d3ab"/>
<rect x="470.6" y="173.71" width="13.1" height="47.89" fill="#bedcec"/>
<rect x="490.7" y="173.17" width="13.1" height="48.43" fill="#a297ec"/>
<path d="M436.95 172.63V182.32M433.55 182.32H440.35" stroke="#333" stroke-width="1" fill="none"/>
<path d="M433.55 172.63H440.35" stroke="#777" stroke-width="1" fill="none"/>
<circle cx="436.95" cy="167.79" r="2.25" fill="#b8504c"/>
<circle cx="441.22" cy="173.17" r="2.25" fill="#b8504c"/>
<circle cx="432.68" cy="175.32" r="2.25" fill="#b8504c"/>
<circle cx="435.62" cy="176.4" r="2.25" fill="#b8504c"/>
<circle cx="437.45" cy="177.47" r="2.25" fill="#b8504c"/>
<circle cx="432.4" cy="178.55" r="2.25" fill="#b8504c"/>
<circle cx="432.37" cy="179.63" r="2.25" fill="#b8504c"/>
<circle cx="436.95" cy="183.93" r="2.25" fill="#b8504c"/>
<circle cx="433.89" cy="187.16" r="2.25" fill="#b8504c"/>
<circle cx="441.22" cy="189.31" r="2.25" fill="#b8504c"/>
<path d="M457.05 182.86V197.92M453.65 197.92H460.45" stroke="#333" stroke-width="1" fill="none"/>
<path d="M453.65 182.86H460.45" stroke="#777" stroke-width="1" fill="none"/>
<rect x="454.91" y="176.41" width="4.27" height="4.27" fill="#eba24f"/>
<rect x="459.19" y="180.72" width="4.27" height="4.27" fill="#eba24f"/>
<rect x="450.64" y="183.95" width="4.27" height="4.27" fill="#eba24f"/>
<rect x="456.79" y="186.1" width="4.27" height="4.27" fill="#eba24f"/>
<rect x="454.16" y="187.18" width="4.27" height="4.27" fill="#eba24f"/>
<rect x="452.98" y="189.33" width="4.27" height="4.27" fill="#eba24f"/>
<rect x="459.19" y="191.48" width="4.27" height="4.27" fill="#eba24f"/>
<rect x="455.8" y="193.63" width="4.27" height="4.27" fill="#eba24f"/>
<rect x="450.64" y="195.78" width="4.27" height="4.27" fill="#eba24f"/>
<rect x="459.19" y="199.01" width="4.27" height="4.27" fill="#eba24f"/>
<rect x="450.64" y="202.24" width="4.27" height="4.27" fill="#eba24f"/>
<path d="M457.05 163.65L457.73 165.47L459.67 165.55L458.14 166.76L458.67 168.62L457.05 167.55L455.43 168.62L455.96 166.76L454.43 165.55L456.37 165.47Z" fill="#111"/>
<path d="M477.15 164.02V183.39M473.75 183.39H480.55" stroke="#333" stroke-width="1" fill="none"/>
<path d="M473.75 164.02H480.55" stroke="#777" stroke-width="1" fill="none"/>
<path d="M477.15 150.13L479.74 154.79L474.56 154.79Z" fill="#62b0cf"/>
<path d="M477.15 160.89L479.74 165.55L474.56 165.55Z" fill="#62b0cf"/>
<path d="M481.42 165.2L484.01 169.86L478.84 169.86Z" fill="#62b0cf"/>
<path d="M477.15 169.5L479.74 174.16L474.56 174.16Z" fill="#62b0cf"/>
<path d="M476.66 171.66L479.25 176.31L474.08 176.31Z" fill="#62b0cf"/>
<path d="M475.07 173.81L477.66 178.47L472.48 178.47Z" fill="#62b0cf"/>
<path d="M481.42 175.96L484.01 180.62L478.84 180.62Z" fill="#62b0cf"/>
<path d="M480.21 177.04L482.8 181.7L477.62 181.7Z" fill="#62b0cf"/>
<path d="M479.22 178.11L481.81 182.77L476.63 182.77Z" fill="#62b0cf"/>
<path d="M472.88 180.27L475.46 184.92L470.29 184.92Z" fill="#62b0cf"/>
<text x="477.15" y="148.9" font-size="9" text-anchor="middle" fill="#111" >###</text>
<path d="M497.25 162.41V183.93M493.85 183.93H500.65" stroke="#333" stroke-width="1" fill="none"/>
<path d="M493.85 162.41H500.65" stroke="#777" stroke-width="1" fill="none"/>
<path d="M497.25 143.83L499.68 146.26L497.25 148.69L494.82 146.26Z" fill="#28309e"/>
<path d="M497.25 159.98L499.68 162.41L497.25 164.84L494.82 162.41Z" fill="#28309e"/>
<path d="M497.25 167.51L499.68 169.94L497.25 172.37L494.82 169.94Z" fill="#28309e"/>
<path d="M494.59 169.66L497.02 172.09L494.59 174.52L492.16 172.09Z" fill="#28309e"/>
<path d="M498.02 170.74L500.45 173.17L498.02 175.6L495.59 173.17Z" fill="#28309e"/>
<path d="M497.51 171.81L499.94 174.25L497.51 176.68L495.08 174.25Z" fill="#28309e"/>
<path d="M501.15 172.89L503.58 175.32L501.15 177.75L498.72 175.32Z" fill="#28309e"/>
<path d="M499.64 173.97L502.07 176.4L499.64 178.83L497.21 176.4Z" fill="#28309e"/>
<path d="M492.98 178.27L495.41 180.7L492.98 183.13L490.55 180.7Z" fill="#28309e"/>
<path d="M501.52 181.5L503.95 183.93L501.52 186.36L499.09 183.93Z" fill="#28309e"/>
<text x="497.25" y="139.9" font-size="9" text-anchor="middle" fill="#111" >###</text>
<path d="M423.9 135.5V221.6" stroke="#777" stroke-width="1.3" fill="none"/>
<path d="M420.4 221.6H510.3" stroke="#2b2b2b" stroke-width="1.3" fill="none"/>
<path d="M419.9 135.5H423.9" stroke="#777" stroke-width="1.2"/>
<text x="414.2" y="140.7" font-size="13" text-anchor="middle" fill="#111" >8</text>
<path d="M419.9 157.03H423.9" stroke="#777" stroke-width="1.2"/>
<text x="414.2" y="162.22" font-size="13" text-anchor="middle" fill="#111" >6</text>
<path d="M419.9 178.55H423.9" stroke="#777" stroke-width="1.2"/>
<text x="414.2" y="183.75" font-size="13" text-anchor="middle" fill="#111" >4</text>
<path d="M419.9 200.07H423.9" stroke="#777" stroke-width="1.2"/>
<text x="414.2" y="205.27" font-size="13" text-anchor="middle" fill="#111" >2</text>
<path d="M419.9 221.6H423.9" stroke="#777" stroke-width="1.2"/>
<text x="414.2" y="226.8" font-size="13" text-anchor="middle" fill="#111" >0</text>
<path d="M421.4 146.26H423.9" stroke="#777" stroke-width="1.1"/>
<path d="M421.4 167.79H423.9" stroke="#777" stroke-width="1.1"/>
<path d="M421.4 189.31H423.9" stroke="#777" stroke-width="1.1"/>
<path d="M421.4 210.84H423.9" stroke="#777" stroke-width="1.1"/>
<path d="M436.95 221.6V225.1" stroke="#2b2b2b" stroke-width="1.1"/>
<text transform="translate(443.25,233.2) rotate(-45)" font-size="13.1" text-anchor="end" fill="#111" >CK</text>
<path d="M457.05 221.6V225.1" stroke="#2b2b2b" stroke-width="1.1"/>
<text transform="translate(463.95,233.2) rotate(-45)" font-size="13.1" text-anchor="end" fill="#111" >GEM</text>
<path d="M477.15 221.6V225.1" stroke="#2b2b2b" stroke-width="1.1"/>
<text transform="translate(484.65,233.2) rotate(-45)" font-size="13.1" text-anchor="end" fill="#111" >GEM+LR</text>
<path d="M497.25 221.6V225.1" stroke="#2b2b2b" stroke-width="1.1"/>
<text transform="translate(505.35,233.2) rotate(-45)" font-size="13.1" text-anchor="end" fill="#111" >GEM+HR</text>
<text transform="translate(384.2,182) rotate(-90)" font-size="13.4" text-anchor="middle" fill="#111" >Spleen index</text>
<text transform="translate(400.2,182) rotate(-90)" font-size="13.4" text-anchor="middle" fill="#111" >(mg/g weight)</text>
<rect x="599.9" y="175.32" width="13.1" height="46.28" fill="#e09497"/>
<rect x="620" y="201.15" width="13.1" height="20.45" fill="#f1d3ab"/>
<rect x="640.1" y="187.16" width="13.1" height="34.44" fill="#bedcec"/>
<rect x="660.2" y="186.08" width="13.1" height="35.52" fill="#a297ec"/>
<path d="M606.45 158.64V192M603.05 192H609.85" stroke="#333" stroke-width="1" fill="none"/>
<path d="M603.05 158.64H609.85" stroke="#777" stroke-width="1" fill="none"/>
<circle cx="606.45" cy="139.81" r="2.25" fill="#b8504c"/>
<circle cx="606.45" cy="159.18" r="2.25" fill="#b8504c"/>
<circle cx="606.45" cy="167.79" r="2.25" fill="#b8504c"/>
<circle cx="606.45" cy="176.4" r="2.25" fill="#b8504c"/>
<circle cx="604.24" cy="178.55" r="2.25" fill="#b8504c"/>
<circle cx="610.72" cy="180.7" r="2.25" fill="#b8504c"/>
<circle cx="602.17" cy="183.93" r="2.25" fill="#b8504c"/>
<circle cx="611.44" cy="186.08" r="2.25" fill="#b8504c"/>
<circle cx="606.45" cy="195.77" r="2.25" fill="#b8504c"/>
<path d="M626.55 196.31V205.99M623.15 205.99H629.95" stroke="#333" stroke-width="1" fill="none"/>
<path d="M623.15 196.31H629.95" stroke="#777" stroke-width="1" fill="none"/>
<rect x="624.41" y="189.33" width="4.27" height="4.27" fill="#eba24f"/>
<rect x="620.44" y="191.48" width="4.27" height="4.27" fill="#eba24f"/>
<rect x="628.69" y="193.63" width="4.27" height="4.27" fill="#eba24f"/>
<rect x="623.56" y="195.78" width="4.27" height="4.27" fill="#eba24f"/>
<rect x="627.09" y="197.94" width="4.27" height="4.27" fill="#eba24f"/>
<rect x="620.14" y="200.09" width="4.27" height="4.27" fill="#eba24f"/>
<rect x="620.79" y="202.24" width="4.27" height="4.27" fill="#eba24f"/>
<rect x="628.69" y="204.4" width="4.27" height="4.27" fill="#eba24f"/>
<rect x="624.3" y="206.55" width="4.27" height="4.27" fill="#eba24f"/>
<path d="M626.55 177.65L627.23 179.47L629.17 179.55L627.64 180.76L628.17 182.62L626.55 181.55L624.93 182.62L625.46 180.76L623.93 179.55L625.87 179.47Z" fill="#111"/>
<path d="M646.65 176.4V197.92M643.25 197.92H650.05" stroke="#333" stroke-width="1" fill="none"/>
<path d="M643.25 176.4H650.05" stroke="#777" stroke-width="1" fill="none"/>
<path d="M646.65 161.97L649.24 166.63L644.06 166.63Z" fill="#62b0cf"/>
<path d="M646.65 169.5L649.24 174.16L644.06 174.16Z" fill="#62b0cf"/>
<path d="M646.65 178.11L649.24 182.77L644.06 182.77Z" fill="#62b0cf"/>
<path d="M650.92 183.5L653.51 188.15L648.34 188.15Z" fill="#62b0cf"/>
<path d="M642.38 186.72L644.96 191.38L639.79 191.38Z" fill="#62b0cf"/>
<path d="M641.86 188.88L644.45 193.53L639.27 193.53Z" fill="#62b0cf"/>
<path d="M650.92 191.03L653.51 195.69L648.34 195.69Z" fill="#62b0cf"/>
<path d="M648.4 193.18L650.99 197.84L645.81 197.84Z" fill="#62b0cf"/>
<path d="M642.38 195.33L644.96 199.99L639.79 199.99Z" fill="#62b0cf"/>
<path d="M649.4 197.49L651.99 202.14L646.81 202.14Z" fill="#62b0cf"/>
<text x="646.65" y="158.6" font-size="9" text-anchor="middle" fill="#111" >#</text>
<path d="M666.75 171.02V201.15M663.35 201.15H670.15" stroke="#333" stroke-width="1" fill="none"/>
<path d="M663.35 171.02H670.15" stroke="#777" stroke-width="1" fill="none"/>
<path d="M666.75 149.21L669.18 151.64L666.75 154.07L664.32 151.64Z" fill="#28309e"/>
<path d="M666.75 164.28L669.18 166.71L666.75 169.14L664.32 166.71Z" fill="#28309e"/>
<path d="M666.75 180.42L669.18 182.85L666.75 185.28L664.32 182.85Z" fill="#28309e"/>
<path d="M667.51 183.65L669.94 186.08L667.51 188.51L665.08 186.08Z" fill="#28309e"/>
<path d="M670.65 184.73L673.08 187.16L670.65 189.59L668.22 187.16Z" fill="#28309e"/>
<path d="M662.47 186.88L664.9 189.31L662.47 191.74L660.04 189.31Z" fill="#28309e"/>
<path d="M664.81 189.03L667.24 191.47L664.81 193.9L662.38 191.47Z" fill="#28309e"/>
<path d="M671.02 192.26L673.45 194.69L671.02 197.12L668.59 194.69Z" fill="#28309e"/>
<path d="M662.47 195.49L664.9 197.92L662.47 200.35L660.04 197.92Z" fill="#28309e"/>
<path d="M668.78 197.64L671.21 200.07L668.78 202.5L666.35 200.07Z" fill="#28309e"/>
<text x="666.75" y="140.7" font-size="9" text-anchor="middle" fill="#111" >#</text>
<path d="M593.4 135.5V221.6" stroke="#2b2b2b" stroke-width="1.3" fill="none"/>
<path d="M589.9 221.6H679.8" stroke="#2b2b2b" stroke-width="1.3" fill="none"/>
<path d="M589.4 135.5H593.4" stroke="#2b2b2b" stroke-width="1.2"/>
<text x="582.7" y="140.7" font-size="13" text-anchor="middle" fill="#111" >8</text>
<path d="M589.4 157.03H593.4" stroke="#2b2b2b" stroke-width="1.2"/>
<text x="582.7" y="162.22" font-size="13" text-anchor="middle" fill="#111" >6</text>
<path d="M589.4 178.55H593.4" stroke="#2b2b2b" stroke-width="1.2"/>
<text x="582.7" y="183.75" font-size="13" text-anchor="middle" fill="#111" >4</text>
<path d="M589.4 200.07H593.4" stroke="#2b2b2b" stroke-width="1.2"/>
<text x="582.7" y="205.27" font-size="13" text-anchor="middle" fill="#111" >2</text>
<path d="M589.4 221.6H593.4" stroke="#2b2b2b" stroke-width="1.2"/>
<text x="582.7" y="226.8" font-size="13" text-anchor="middle" fill="#111" >0</text>
<path d="M590.9 146.26H593.4" stroke="#2b2b2b" stroke-width="1.1"/>
<path d="M590.9 167.79H593.4" stroke="#2b2b2b" stroke-width="1.1"/>
<path d="M590.9 189.31H593.4" stroke="#2b2b2b" stroke-width="1.1"/>
<path d="M590.9 210.84H593.4" stroke="#2b2b2b" stroke-width="1.1"/>
<path d="M606.45 221.6V225.1" stroke="#2b2b2b" stroke-width="1.1"/>
<text transform="translate(612.75,233.2) rotate(-45)" font-size="13.1" text-anchor="end" fill="#111" >CK</text>
<path d="M626.55 221.6V225.1" stroke="#2b2b2b" stroke-width="1.1"/>
<text transform="translate(633.45,233.2) rotate(-45)" font-size="13.1" text-anchor="end" fill="#111" >GEM</text>
<path d="M646.65 221.6V225.1" stroke="#2b2b2b" stroke-width="1.1"/>
<text transform="translate(654.15,233.2) rotate(-45)" font-size="13.1" text-anchor="end" fill="#111" >GEM+LR</text>
<path d="M666.75 221.6V225.1" stroke="#2b2b2b" stroke-width="1.1"/>
<text transform="translate(674.85,233.2) rotate(-45)" font-size="13.1" text-anchor="end" fill="#111" >GEM+HR</text>
<text transform="translate(551.2,182) rotate(-90)" font-size="13.4" text-anchor="middle" fill="#111" >WBC</text>
<text transform="translate(567.7,182) rotate(-90)" font-size="13.4" text-anchor="middle" fill="#111" >(10<tspan dy="-4.5" font-size="9">9</tspan><tspan dy="4.5"> /L)</tspan></text>
<rect x="83.9" y="318.98" width="13.1" height="51.72" fill="#e09497"/>
<rect x="104" y="330.19" width="13.1" height="40.51" fill="#f1d3ab"/>
<rect x="124.1" y="322.43" width="13.1" height="48.27" fill="#bedcec"/>
<rect x="144.2" y="320.7" width="13.1" height="50" fill="#a297ec"/>
<path d="M90.45 307.77V330.19M87.05 330.19H93.85" stroke="#333" stroke-width="1" fill="none"/>
<path d="M87.05 307.77H93.85" stroke="#777" stroke-width="1" fill="none"/>
<circle cx="90.45" cy="294.84" r="2.25" fill="#b8504c"/>
<circle cx="90.45" cy="313.81" r="2.25" fill="#b8504c"/>
<circle cx="91.43" cy="315.53" r="2.25" fill="#b8504c"/>
<circle cx="86.17" cy="317.26" r="2.25" fill="#b8504c"/>
<circle cx="94.73" cy="320.7" r="2.25" fill="#b8504c"/>
<circle cx="90.45" cy="324.15" r="2.25" fill="#b8504c"/>
<circle cx="94.73" cy="327.6" r="2.25" fill="#b8504c"/>
<circle cx="86.17" cy="329.32" r="2.25" fill="#b8504c"/>
<circle cx="91.28" cy="331.05" r="2.25" fill="#b8504c"/>
<path d="M110.55 312.95V347.43M107.15 347.43H113.95" stroke="#333" stroke-width="1" fill="none"/>
<path d="M107.15 312.95H113.95" stroke="#777" stroke-width="1" fill="none"/>
<rect x="108.41" y="303.05" width="4.27" height="4.27" fill="#eba24f"/>
<rect x="107.96" y="303.05" width="4.27" height="4.27" fill="#eba24f"/>
<rect x="108.41" y="309.95" width="4.27" height="4.27" fill="#eba24f"/>
<rect x="108.41" y="316.84" width="4.27" height="4.27" fill="#eba24f"/>
<rect x="112.69" y="320.29" width="4.27" height="4.27" fill="#eba24f"/>
<rect x="108.41" y="323.74" width="4.27" height="4.27" fill="#eba24f"/>
<rect x="108.41" y="334.08" width="4.27" height="4.27" fill="#eba24f"/>
<rect x="108.41" y="342.7" width="4.27" height="4.27" fill="#eba24f"/>
<rect x="112.69" y="347.87" width="4.27" height="4.27" fill="#eba24f"/>
<rect x="108.41" y="354.77" width="4.27" height="4.27" fill="#eba24f"/>
<path d="M130.65 306.05V338.81M127.25 338.81H134.05" stroke="#333" stroke-width="1" fill="none"/>
<path d="M127.25 306.05H134.05" stroke="#777" stroke-width="1" fill="none"/>
<path d="M130.65 290.53L133.24 295.19L128.06 295.19Z" fill="#62b0cf"/>
<path d="M130.65 299.15L133.24 303.81L128.06 303.81Z" fill="#62b0cf"/>
<path d="M130.65 316.39L133.24 321.05L128.06 321.05Z" fill="#62b0cf"/>
<path d="M134.19 318.12L136.77 322.77L131.6 322.77Z" fill="#62b0cf"/>
<path d="M126.38 319.84L128.96 324.5L123.79 324.5Z" fill="#62b0cf"/>
<path d="M135.27 321.56L137.86 326.22L132.69 326.22Z" fill="#62b0cf"/>
<path d="M130.38 323.29L132.97 327.95L127.79 327.95Z" fill="#62b0cf"/>
<path d="M130.65 330.18L133.24 334.84L128.06 334.84Z" fill="#62b0cf"/>
<path d="M130.65 337.08L133.24 341.74L128.06 341.74Z" fill="#62b0cf"/>
<path d="M130.65 350.87L133.24 355.53L128.06 355.53Z" fill="#62b0cf"/>
<path d="M150.75 305.19V336.22M147.35 336.22H154.15" stroke="#333" stroke-width="1" fill="none"/>
<path d="M147.35 305.19H154.15" stroke="#777" stroke-width="1" fill="none"/>
<path d="M150.75 294.14L153.18 296.57L150.75 299L148.32 296.57Z" fill="#28309e"/>
<path d="M152.46 295.86L154.89 298.29L152.46 300.72L150.03 298.29Z" fill="#28309e"/>
<path d="M150.75 306.21L153.18 308.64L150.75 311.07L148.32 308.64Z" fill="#28309e"/>
<path d="M155.03 309.65L157.46 312.08L155.03 314.51L152.6 312.08Z" fill="#28309e"/>
<path d="M150.75 316.55L153.18 318.98L150.75 321.41L148.32 318.98Z" fill="#28309e"/>
<path d="M155.03 320L157.46 322.43L155.03 324.86L152.6 322.43Z" fill="#28309e"/>
<path d="M150.75 323.45L153.18 325.88L150.75 328.31L148.32 325.88Z" fill="#28309e"/>
<path d="M150.75 330.34L153.18 332.77L150.75 335.2L148.32 332.77Z" fill="#28309e"/>
<path d="M155.03 333.79L157.46 336.22L155.03 338.65L152.6 336.22Z" fill="#28309e"/>
<path d="M150.75 344.13L153.18 346.56L150.75 348.99L148.32 346.56Z" fill="#28309e"/>
<path d="M77.4 284.5V370.7" stroke="#2b2b2b" stroke-width="1.3" fill="none"/>
<path d="M73.9 370.7H163.8" stroke="#2b2b2b" stroke-width="1.3" fill="none"/>
<path d="M73.4 284.5H77.4" stroke="#2b2b2b" stroke-width="1.2"/>
<text x="64.8" y="289.7" font-size="13" text-anchor="middle" fill="#111" >11</text>
<path d="M73.4 301.74H77.4" stroke="#2b2b2b" stroke-width="1.2"/>
<text x="64.8" y="306.94" font-size="13" text-anchor="middle" fill="#111" >10</text>
<path d="M73.4 318.98H77.4" stroke="#2b2b2b" stroke-width="1.2"/>
<text x="64.8" y="324.18" font-size="13" text-anchor="middle" fill="#111" >9</text>
<path d="M73.4 336.22H77.4" stroke="#2b2b2b" stroke-width="1.2"/>
<text x="64.8" y="341.42" font-size="13" text-anchor="middle" fill="#111" >8</text>
<path d="M73.4 353.46H77.4" stroke="#2b2b2b" stroke-width="1.2"/>
<text x="64.8" y="358.66" font-size="13" text-anchor="middle" fill="#111" >7</text>
<path d="M73.4 370.7H77.4" stroke="#2b2b2b" stroke-width="1.2"/>
<text x="64.8" y="375.9" font-size="13" text-anchor="middle" fill="#111" >6</text>
<path d="M74.9 293.12H77.4" stroke="#2b2b2b" stroke-width="1.1"/>
<path d="M74.9 310.36H77.4" stroke="#2b2b2b" stroke-width="1.1"/>
<path d="M74.9 327.6H77.4" stroke="#2b2b2b" stroke-width="1.1"/>
<path d="M74.9 344.84H77.4" stroke="#2b2b2b" stroke-width="1.1"/>
<path d="M74.9 362.08H77.4" stroke="#2b2b2b" stroke-width="1.1"/>
<path d="M90.45 370.7V374.2" stroke="#2b2b2b" stroke-width="1.1"/>
<text transform="translate(96.75,382.3) rotate(-45)" font-size="13.1" text-anchor="end" fill="#111" >CK</text>
<path d="M110.55 370.7V374.2" stroke="#2b2b2b" stroke-width="1.1"/>
<text transform="translate(117.45,382.3) rotate(-45)" font-size="13.1" text-anchor="end" fill="#111" >GEM</text>
<path d="M130.65 370.7V374.2" stroke="#2b2b2b" stroke-width="1.1"/>
<text transform="translate(138.15,382.3) rotate(-45)" font-size="13.1" text-anchor="end" fill="#111" >GEM+LR</text>
<path d="M150.75 370.7V374.2" stroke="#2b2b2b" stroke-width="1.1"/>
<text transform="translate(158.85,382.3) rotate(-45)" font-size="13.1" text-anchor="end" fill="#111" >GEM+HR</text>
<text transform="translate(31,331) rotate(-90)" font-size="13.4" text-anchor="middle" fill="#111" >RBC</text>
<text transform="translate(45.2,331) rotate(-90)" font-size="13.4" text-anchor="middle" fill="#111" >(10<tspan dy="-4.5" font-size="9">12</tspan><tspan dy="4.5"> /L)</tspan></text>
<rect x="255.3" y="330.19" width="13.1" height="40.51" fill="#e09497"/>
<rect x="275.4" y="358.63" width="13.1" height="12.07" fill="#f1d3ab"/>
<rect x="295.5" y="340.53" width="13.1" height="30.17" fill="#bedcec"/>
<rect x="315.6" y="332.77" width="13.1" height="37.93" fill="#a297ec"/>
<path d="M261.85 314.67V345.7M258.45 345.7H265.25" stroke="#333" stroke-width="1" fill="none"/>
<path d="M258.45 314.67H265.25" stroke="#777" stroke-width="1" fill="none"/>
<circle cx="261.85" cy="301.74" r="2.25" fill="#b8504c"/>
<circle cx="261.85" cy="312.08" r="2.25" fill="#b8504c"/>
<circle cx="261.85" cy="325.88" r="2.25" fill="#b8504c"/>
<circle cx="266.12" cy="331.05" r="2.25" fill="#b8504c"/>
<circle cx="257.58" cy="332.77" r="2.25" fill="#b8504c"/>
<circle cx="261.85" cy="336.22" r="2.25" fill="#b8504c"/>
<circle cx="266.12" cy="339.67" r="2.25" fill="#b8504c"/>
<circle cx="261.85" cy="343.12" r="2.25" fill="#b8504c"/>
<path d="M281.95 350.01V367.25M278.55 367.25H285.35" stroke="#333" stroke-width="1" fill="none"/>
<path d="M278.55 350.01H285.35" stroke="#777" stroke-width="1" fill="none"/>
<rect x="279.81" y="342.7" width="4.27" height="4.27" fill="#eba24f"/>
<rect x="284.09" y="346.15" width="4.27" height="4.27" fill="#eba24f"/>
<rect x="279.81" y="349.6" width="4.27" height="4.27" fill="#eba24f"/>
<rect x="284.09" y="353.05" width="4.27" height="4.27" fill="#eba24f"/>
<rect x="279.81" y="356.49" width="4.27" height="4.27" fill="#eba24f"/>
<rect x="284.09" y="359.94" width="4.27" height="4.27" fill="#eba24f"/>
<rect x="279.81" y="363.39" width="4.27" height="4.27" fill="#eba24f"/>
<rect x="275.24" y="365.11" width="4.27" height="4.27" fill="#eba24f"/>
<rect x="284.09" y="366.84" width="4.27" height="4.27" fill="#eba24f"/>
<rect x="281.91" y="367.7" width="4.27" height="4.27" fill="#eba24f"/>
<path d="M281.95 327.55L282.63 329.37L284.57 329.45L283.04 330.66L283.57 332.52L281.95 331.45L280.33 332.52L280.86 330.66L279.33 329.45L281.27 329.37Z" fill="#111"/>
<path d="M302.05 326.74V354.32M298.65 354.32H305.45" stroke="#333" stroke-width="1" fill="none"/>
<path d="M298.65 326.74H305.45" stroke="#777" stroke-width="1" fill="none"/>
<path d="M302.05 312.94L304.64 317.6L299.46 317.6Z" fill="#62b0cf"/>
<path d="M302.05 323.29L304.64 327.95L299.46 327.95Z" fill="#62b0cf"/>
<path d="M303.58 325.01L306.17 329.67L300.99 329.67Z" fill="#62b0cf"/>
<path d="M302.05 333.63L304.64 338.29L299.46 338.29Z" fill="#62b0cf"/>
<path d="M306.32 337.08L308.91 341.74L303.74 341.74Z" fill="#62b0cf"/>
<path d="M302.05 340.53L304.64 345.19L299.46 345.19Z" fill="#62b0cf"/>
<path d="M302.05 347.42L304.64 352.08L299.46 352.08Z" fill="#62b0cf"/>
<path d="M306.32 350.87L308.91 355.53L303.74 355.53Z" fill="#62b0cf"/>
<path d="M302.05 354.32L304.64 358.98L299.46 358.98Z" fill="#62b0cf"/>
<path d="M306.32 357.77L308.91 362.43L303.74 362.43Z" fill="#62b0cf"/>
<text x="302.05" y="309.9" font-size="9" text-anchor="middle" fill="#111" >#</text>
<path d="M322.15 314.67V350.87M318.75 350.87H325.55" stroke="#333" stroke-width="1" fill="none"/>
<path d="M318.75 314.67H325.55" stroke="#777" stroke-width="1" fill="none"/>
<path d="M322.15 297.59L324.58 300.02L322.15 302.45L319.72 300.02Z" fill="#28309e"/>
<path d="M322.15 306.21L324.58 308.64L322.15 311.07L319.72 308.64Z" fill="#28309e"/>
<path d="M322.15 321.72L324.58 324.15L322.15 326.58L319.72 324.15Z" fill="#28309e"/>
<path d="M326.43 325.17L328.86 327.6L326.43 330.03L324 327.6Z" fill="#28309e"/>
<path d="M322.15 330.34L324.58 332.77L322.15 335.2L319.72 332.77Z" fill="#28309e"/>
<path d="M326.43 333.79L328.86 336.22L326.43 338.65L324 336.22Z" fill="#28309e"/>
<path d="M322.15 337.24L324.58 339.67L322.15 342.1L319.72 339.67Z" fill="#28309e"/>
<path d="M326.43 342.41L328.86 344.84L326.43 347.27L324 344.84Z" fill="#28309e"/>
<path d="M322.15 349.31L324.58 351.74L322.15 354.17L319.72 351.74Z" fill="#28309e"/>
<path d="M326.43 352.75L328.86 355.18L326.43 357.61L324 355.18Z" fill="#28309e"/>
<text x="322.15" y="290.2" font-size="9" text-anchor="middle" fill="#111" >#</text>
<path d="M248.8 284.5V370.7" stroke="#888" stroke-width="1.3" fill="none"/>
<path d="M245.3 370.7H335.2" stroke="#2b2b2b" stroke-width="1.3" fill="none"/>
<path d="M244.8 284.5H248.8" stroke="#888" stroke-width="1.2"/>
<text x="238.3" y="289.7" font-size="13" text-anchor="middle" fill="#111" >5</text>
<path d="M244.8 301.74H248.8" stroke="#888" stroke-width="1.2"/>
<text x="238.3" y="306.94" font-size="13" text-anchor="middle" fill="#111" >4</text>
<path d="M244.8 318.98H248.8" stroke="#888" stroke-width="1.2"/>
<text x="238.3" y="324.18" font-size="13" text-anchor="middle" fill="#111" >3</text>
<path d="M244.8 336.22H248.8" stroke="#888" stroke-width="1.2"/>
<text x="238.3" y="341.42" font-size="13" text-anchor="middle" fill="#111" >2</text>
<path d="M244.8 353.46H248.8" stroke="#888" stroke-width="1.2"/>
<text x="238.3" y="358.66" font-size="13" text-anchor="middle" fill="#111" >1</text>
<path d="M244.8 370.7H248.8" stroke="#888" stroke-width="1.2"/>
<text x="238.3" y="375.9" font-size="13" text-anchor="middle" fill="#111" >0</text>
<path d="M246.3 293.12H248.8" stroke="#888" stroke-width="1.1"/>
<path d="M246.3 310.36H248.8" stroke="#888" stroke-width="1.1"/>
<path d="M246.3 327.6H248.8" stroke="#888" stroke-width="1.1"/>
<path d="M246.3 344.84H248.8" stroke="#888" stroke-width="1.1"/>
<path d="M246.3 362.08H248.8" stroke="#888" stroke-width="1.1"/>
<path d="M261.85 370.7V374.2" stroke="#2b2b2b" stroke-width="1.1"/>
<text transform="translate(268.15,382.3) rotate(-45)" font-size="13.1" text-anchor="end" fill="#111" >CK</text>
<path d="M281.95 370.7V374.2" stroke="#2b2b2b" stroke-width="1.1"/>
<text transform="translate(288.85,382.3) rotate(-45)" font-size="13.1" text-anchor="end" fill="#111" >GEM</text>
<path d="M302.05 370.7V374.2" stroke="#2b2b2b" stroke-width="1.1"/>
<text transform="translate(309.55,382.3) rotate(-45)" font-size="13.1" text-anchor="end" fill="#111" >GEM+LR</text>
<path d="M322.15 370.7V374.2" stroke="#2b2b2b" stroke-width="1.1"/>
<text transform="translate(330.25,382.3) rotate(-45)" font-size="13.1" text-anchor="end" fill="#111" >GEM+HR</text>
<text transform="translate(207.2,331.5) rotate(-90)" font-size="13.4" text-anchor="middle" fill="#111" >LYMPH</text>
<text transform="translate(222.2,331.5) rotate(-90)" font-size="13.4" text-anchor="middle" fill="#111" >(10<tspan dy="-4.5" font-size="9">9</tspan><tspan dy="4.5"> /L)</tspan></text>
<rect x="429.9" y="336.22" width="13.1" height="34.48" fill="#e09497"/>
<rect x="450" y="359.93" width="13.1" height="10.77" fill="#f1d3ab"/>
<rect x="470.1" y="348.07" width="13.1" height="22.63" fill="#bedcec"/>
<rect x="490.2" y="349.15" width="13.1" height="21.55" fill="#a297ec"/>
<path d="M436.45 317.9V354.54M433.05 354.54H439.85" stroke="#333" stroke-width="1" fill="none"/>
<path d="M433.05 317.9H439.85" stroke="#777" stroke-width="1" fill="none"/>
<circle cx="436.45" cy="301.74" r="2.25" fill="#b8504c"/>
<circle cx="436.45" cy="336.22" r="2.25" fill="#b8504c"/>
<circle cx="441.58" cy="338.38" r="2.25" fill="#b8504c"/>
<circle cx="439.8" cy="338.38" r="2.25" fill="#b8504c"/>
<circle cx="436.45" cy="344.84" r="2.25" fill="#b8504c"/>
<circle cx="440.72" cy="349.15" r="2.25" fill="#b8504c"/>
<circle cx="436.45" cy="355.62" r="2.25" fill="#b8504c"/>
<circle cx="440.72" cy="359.93" r="2.25" fill="#b8504c"/>
<path d="M456.55 355.62V364.24M453.15 364.24H459.95" stroke="#333" stroke-width="1" fill="none"/>
<path d="M453.15 355.62H459.95" stroke="#777" stroke-width="1" fill="none"/>
<rect x="454.41" y="350.25" width="4.27" height="4.27" fill="#eba24f"/>
<rect x="452.17" y="352.4" width="4.27" height="4.27" fill="#eba24f"/>
<rect x="458.69" y="355.63" width="4.27" height="4.27" fill="#eba24f"/>
<rect x="450.14" y="357.79" width="4.27" height="4.27" fill="#eba24f"/>
<rect x="453.22" y="359.94" width="4.27" height="4.27" fill="#eba24f"/>
<rect x="456.17" y="361.02" width="4.27" height="4.27" fill="#eba24f"/>
<rect x="449.45" y="362.1" width="4.27" height="4.27" fill="#eba24f"/>
<rect x="454.01" y="364.25" width="4.27" height="4.27" fill="#eba24f"/>
<rect x="450.96" y="365.33" width="4.27" height="4.27" fill="#eba24f"/>
<rect x="450.43" y="366.41" width="4.27" height="4.27" fill="#eba24f"/>
<path d="M451.55 337.55L452.23 339.37L454.17 339.45L452.64 340.66L453.17 342.52L451.55 341.45L449.93 342.52L450.46 340.66L448.93 339.45L450.87 339.37Z" fill="#111"/>
<path d="M456.55 337.55L457.23 339.37L459.17 339.45L457.64 340.66L458.17 342.52L456.55 341.45L454.93 342.52L455.46 340.66L453.93 339.45L455.87 339.37Z" fill="#111"/>
<path d="M461.55 337.55L462.23 339.37L464.17 339.45L462.64 340.66L463.17 342.52L461.55 341.45L459.93 342.52L460.46 340.66L458.93 339.45L460.87 339.37Z" fill="#111"/>
<path d="M476.65 336.22V359.93M473.25 359.93H480.05" stroke="#333" stroke-width="1" fill="none"/>
<path d="M473.25 336.22H480.05" stroke="#777" stroke-width="1" fill="none"/>
<path d="M476.65 319.62L479.24 324.28L474.06 324.28Z" fill="#62b0cf"/>
<path d="M476.65 333.63L479.24 338.29L474.06 338.29Z" fill="#62b0cf"/>
<path d="M472.06 335.79L474.65 340.44L469.48 340.44Z" fill="#62b0cf"/>
<path d="M476.65 344.41L479.24 349.06L474.06 349.06Z" fill="#62b0cf"/>
<path d="M480.92 348.72L483.51 353.38L478.34 353.38Z" fill="#62b0cf"/>
<path d="M472.38 350.87L474.96 355.53L469.79 355.53Z" fill="#62b0cf"/>
<path d="M479.44 353.03L482.03 357.69L476.85 357.69Z" fill="#62b0cf"/>
<path d="M472.8 355.18L475.38 359.84L470.21 359.84Z" fill="#62b0cf"/>
<path d="M474.03 357.34L476.61 362L471.44 362Z" fill="#62b0cf"/>
<path d="M480.92 359.49L483.51 364.15L478.34 364.15Z" fill="#62b0cf"/>
<text x="476.65" y="309.9" font-size="9" text-anchor="middle" fill="#111" >#</text>
<path d="M496.75 336.22V362.08M493.35 362.08H500.15" stroke="#333" stroke-width="1" fill="none"/>
<path d="M493.35 336.22H500.15" stroke="#777" stroke-width="1" fill="none"/>
<path d="M496.75 319.78L499.18 322.21L496.75 324.64L494.32 322.21Z" fill="#28309e"/>
<path d="M496.75 333.79L499.18 336.22L496.75 338.65L494.32 336.22Z" fill="#28309e"/>
<path d="M501.02 338.1L503.45 340.53L501.02 342.96L498.59 340.53Z" fill="#28309e"/>
<path d="M496.75 348.88L499.18 351.31L496.75 353.74L494.32 351.31Z" fill="#28309e"/>
<path d="M495.62 351.03L498.05 353.46L495.62 355.89L493.19 353.46Z" fill="#28309e"/>
<path d="M501.02 353.19L503.45 355.62L501.02 358.05L498.59 355.62Z" fill="#28309e"/>
<path d="M500.61 355.34L503.04 357.77L500.61 360.2L498.18 357.77Z" fill="#28309e"/>
<path d="M492.48 356.42L494.91 358.85L492.48 361.28L490.05 358.85Z" fill="#28309e"/>
<path d="M492.39 357.5L494.82 359.93L492.39 362.36L489.96 359.93Z" fill="#28309e"/>
<path d="M496.22 358.57L498.65 361L496.22 363.43L493.79 361Z" fill="#28309e"/>
<text transform="translate(498.75,311) rotate(-90)" font-size="8.0" text-anchor="start" fill="#111" >P=0.06</text>
<path d="M423.4 284.5V370.7" stroke="#777" stroke-width="1.3" fill="none"/>
<path d="M419.9 370.7H509.8" stroke="#2b2b2b" stroke-width="1.3" fill="none"/>
<path d="M419.4 284.5H423.4" stroke="#777" stroke-width="1.2"/>
<text x="413.6" y="289.7" font-size="13" text-anchor="middle" fill="#111" >4</text>
<path d="M419.4 306.05H423.4" stroke="#777" stroke-width="1.2"/>
<text x="413.6" y="311.25" font-size="13" text-anchor="middle" fill="#111" >3</text>
<path d="M419.4 327.6H423.4" stroke="#777" stroke-width="1.2"/>
<text x="413.6" y="332.8" font-size="13" text-anchor="middle" fill="#111" >2</text>
<path d="M419.4 349.15H423.4" stroke="#777" stroke-width="1.2"/>
<text x="413.6" y="354.35" font-size="13" text-anchor="middle" fill="#111" >1</text>
<path d="M419.4 370.7H423.4" stroke="#777" stroke-width="1.2"/>
<text x="413.6" y="375.9" font-size="13" text-anchor="middle" fill="#111" >0</text>
<path d="M420.9 295.27H423.4" stroke="#777" stroke-width="1.1"/>
<path d="M420.9 316.82H423.4" stroke="#777" stroke-width="1.1"/>
<path d="M420.9 338.38H423.4" stroke="#777" stroke-width="1.1"/>
<path d="M420.9 359.93H423.4" stroke="#777" stroke-width="1.1"/>
<path d="M436.45 370.7V374.2" stroke="#2b2b2b" stroke-width="1.1"/>
<text transform="translate(442.75,382.3) rotate(-45)" font-size="13.1" text-anchor="end" fill="#111" >CK</text>
<path d="M456.55 370.7V374.2" stroke="#2b2b2b" stroke-width="1.1"/>
<text transform="translate(463.45,382.3) rotate(-45)" font-size="13.1" text-anchor="end" fill="#111" >GEM</text>
<path d="M476.65 370.7V374.2" stroke="#2b2b2b" stroke-width="1.1"/>
<text transform="translate(484.15,382.3) rotate(-45)" font-size="13.1" text-anchor="end" fill="#111" >GEM+LR</text>
<path d="M496.75 370.7V374.2" stroke="#2b2b2b" stroke-width="1.1"/>
<text transform="translate(504.85,382.3) rotate(-45)" font-size="13.1" text-anchor="end" fill="#111" >GEM+HR</text>
<text transform="translate(383.7,331) rotate(-90)" font-size="13.4" text-anchor="middle" fill="#111" >NE</text>
<text transform="translate(399.7,331) rotate(-90)" font-size="13.4" text-anchor="middle" fill="#111" >(10<tspan dy="-4.5" font-size="9">9</tspan><tspan dy="4.5"> /L)</tspan></text>
<rect x="599.9" y="312.08" width="13.1" height="58.62" fill="#e09497"/>
<rect x="620" y="339.24" width="13.1" height="31.46" fill="#f1d3ab"/>
<rect x="640.1" y="318.98" width="13.1" height="51.72" fill="#bedcec"/>
<rect x="660.2" y="319.84" width="13.1" height="50.86" fill="#a297ec"/>
<path d="M606.45 300.88V323.29M603.05 323.29H609.85" stroke="#333" stroke-width="1" fill="none"/>
<path d="M603.05 300.88H609.85" stroke="#777" stroke-width="1" fill="none"/>
<circle cx="606.45" cy="295.71" r="2.25" fill="#b8504c"/>
<circle cx="606.45" cy="304.33" r="2.25" fill="#b8504c"/>
<circle cx="606.96" cy="305.19" r="2.25" fill="#b8504c"/>
<circle cx="610.72" cy="310.36" r="2.25" fill="#b8504c"/>
<circle cx="606.45" cy="313.81" r="2.25" fill="#b8504c"/>
<circle cx="610.44" cy="316.39" r="2.25" fill="#b8504c"/>
<circle cx="602.17" cy="319.84" r="2.25" fill="#b8504c"/>
<circle cx="606.45" cy="323.29" r="2.25" fill="#b8504c"/>
<circle cx="610.72" cy="328.46" r="2.25" fill="#b8504c"/>
<path d="M626.55 327.6V350.87M623.15 350.87H629.95" stroke="#333" stroke-width="1" fill="none"/>
<path d="M623.15 327.6H629.95" stroke="#777" stroke-width="1" fill="none"/>
<rect x="624.41" y="320.29" width="4.27" height="4.27" fill="#eba24f"/>
<rect x="628.69" y="325.46" width="4.27" height="4.27" fill="#eba24f"/>
<rect x="624.41" y="328.91" width="4.27" height="4.27" fill="#eba24f"/>
<rect x="627.73" y="330.63" width="4.27" height="4.27" fill="#eba24f"/>
<rect x="624.41" y="335.81" width="4.27" height="4.27" fill="#eba24f"/>
<rect x="628.69" y="340.12" width="4.27" height="4.27" fill="#eba24f"/>
<rect x="620.14" y="342.7" width="4.27" height="4.27" fill="#eba24f"/>
<rect x="624.41" y="346.15" width="4.27" height="4.27" fill="#eba24f"/>
<rect x="628.69" y="349.6" width="4.27" height="4.27" fill="#eba24f"/>
<rect x="624.41" y="354.77" width="4.27" height="4.27" fill="#eba24f"/>
<path d="M626.55 309.35L627.23 311.17L629.17 311.25L627.64 312.46L628.17 314.32L626.55 313.25L624.93 314.32L625.46 312.46L623.93 311.25L625.87 311.17Z" fill="#111"/>
<path d="M646.65 306.05V331.91M643.25 331.91H650.05" stroke="#333" stroke-width="1" fill="none"/>
<path d="M643.25 306.05H650.05" stroke="#777" stroke-width="1" fill="none"/>
<path d="M646.65 296.57L649.24 301.22L644.06 301.22Z" fill="#62b0cf"/>
<path d="M650.44 299.15L653.02 303.81L647.85 303.81Z" fill="#62b0cf"/>
<path d="M642.38 302.6L644.96 307.26L639.79 307.26Z" fill="#62b0cf"/>
<path d="M646.65 312.08L649.24 316.74L644.06 316.74Z" fill="#62b0cf"/>
<path d="M644.35 314.67L646.93 319.33L641.76 319.33Z" fill="#62b0cf"/>
<path d="M646.65 319.84L649.24 324.5L644.06 324.5Z" fill="#62b0cf"/>
<path d="M650.92 323.29L653.51 327.95L648.34 327.95Z" fill="#62b0cf"/>
<path d="M646.65 326.74L649.24 331.39L644.06 331.39Z" fill="#62b0cf"/>
<path d="M650.92 330.18L653.51 334.84L648.34 334.84Z" fill="#62b0cf"/>
<text x="646.65" y="292.8" font-size="9" text-anchor="middle" fill="#111" >##</text>
<path d="M666.75 306.05V333.63M663.35 333.63H670.15" stroke="#333" stroke-width="1" fill="none"/>
<path d="M663.35 306.05H670.15" stroke="#777" stroke-width="1" fill="none"/>
<path d="M666.75 292.41L669.18 294.84L666.75 297.27L664.32 294.84Z" fill="#28309e"/>
<path d="M666.75 302.76L669.18 305.19L666.75 307.62L664.32 305.19Z" fill="#28309e"/>
<path d="M671.02 306.21L673.45 308.64L671.02 311.07L668.59 308.64Z" fill="#28309e"/>
<path d="M666.75 318.27L669.18 320.7L666.75 323.13L664.32 320.7Z" fill="#28309e"/>
<path d="M665.87 320.86L668.3 323.29L665.87 325.72L663.44 323.29Z" fill="#28309e"/>
<path d="M666.75 326.89L669.18 329.32L666.75 331.75L664.32 329.32Z" fill="#28309e"/>
<path d="M665.28 329.48L667.71 331.91L665.28 334.34L662.85 331.91Z" fill="#28309e"/>
<path d="M670.75 329.48L673.18 331.91L670.75 334.34L668.32 331.91Z" fill="#28309e"/>
<path d="M671.51 330.34L673.94 332.77L671.51 335.2L669.08 332.77Z" fill="#28309e"/>
<text x="666.75" y="290.2" font-size="9" text-anchor="middle" fill="#111" >#</text>
<path d="M593.4 284.5V370.7" stroke="#2b2b2b" stroke-width="1.3" fill="none"/>
<path d="M589.9 370.7H679.8" stroke="#2b2b2b" stroke-width="1.3" fill="none"/>
<path d="M589.4 284.5H593.4" stroke="#2b2b2b" stroke-width="1.2"/>
<text x="581.4" y="289.7" font-size="13" text-anchor="middle" fill="#111" >10</text>
<path d="M589.4 327.6H593.4" stroke="#2b2b2b" stroke-width="1.2"/>
<text x="581.4" y="332.8" font-size="13" text-anchor="middle" fill="#111" >5</text>
<path d="M589.4 370.7H593.4" stroke="#2b2b2b" stroke-width="1.2"/>
<text x="581.4" y="375.9" font-size="13" text-anchor="middle" fill="#111" >0</text>
<path d="M590.9 306.05H593.4" stroke="#2b2b2b" stroke-width="1.1"/>
<path d="M590.9 349.15H593.4" stroke="#2b2b2b" stroke-width="1.1"/>
<path d="M606.45 370.7V374.2" stroke="#2b2b2b" stroke-width="1.1"/>
<text transform="translate(612.75,382.3) rotate(-45)" font-size="13.1" text-anchor="end" fill="#111" >CK</text>
<path d="M626.55 370.7V374.2" stroke="#2b2b2b" stroke-width="1.1"/>
<text transform="translate(633.45,382.3) rotate(-45)" font-size="13.1" text-anchor="end" fill="#111" >GEM</text>
<path d="M646.65 370.7V374.2" stroke="#2b2b2b" stroke-width="1.1"/>
<text transform="translate(654.15,382.3) rotate(-45)" font-size="13.1" text-anchor="end" fill="#111" >GEM+LR</text>
<path d="M666.75 370.7V374.2" stroke="#2b2b2b" stroke-width="1.1"/>
<text transform="translate(674.85,382.3) rotate(-45)" font-size="13.1" text-anchor="end" fill="#111" >GEM+HR</text>
<text transform="translate(551.2,331) rotate(-90)" font-size="13.4" text-anchor="middle" fill="#111" >Platelet</text>
<text transform="translate(567.2,331) rotate(-90)" font-size="13.4" text-anchor="middle" fill="#111" >(10<tspan dy="-4.5" font-size="9">11</tspan><tspan dy="4.5"> /L)</tspan></text>
<rect x="73.2" y="625.85" width="10.4" height="28.35" fill="#e09497"/>
<rect x="88.8" y="639.19" width="10.4" height="15.01" fill="#f1d3ab"/>
<rect x="104.4" y="619.85" width="10.4" height="34.35" fill="#bedcec"/>
<rect x="120" y="618.52" width="10.4" height="35.68" fill="#a297ec"/>
<path d="M78.4 619.18V632.52M76 632.52H80.8" stroke="#333" stroke-width="1" fill="none"/>
<path d="M76 619.18H80.8" stroke="#777" stroke-width="1" fill="none"/>
<circle cx="78.4" cy="616.85" r="1.75" fill="#b8504c"/>
<circle cx="81.73" cy="620.85" r="1.75" fill="#b8504c"/>
<circle cx="78.4" cy="624.19" r="1.75" fill="#b8504c"/>
<circle cx="81.73" cy="627.52" r="1.75" fill="#b8504c"/>
<circle cx="78.4" cy="630.86" r="1.75" fill="#b8504c"/>
<circle cx="78.4" cy="637.53" r="1.75" fill="#b8504c"/>
<path d="M94 633.19V645.2M91.6 645.2H96.4" stroke="#333" stroke-width="1" fill="none"/>
<path d="M91.6 633.19H96.4" stroke="#777" stroke-width="1" fill="none"/>
<rect x="92.34" y="631.86" width="3.32" height="3.32" fill="#eba24f"/>
<rect x="89.44" y="632.53" width="3.32" height="3.32" fill="#eba24f"/>
<rect x="92.34" y="637.53" width="3.32" height="3.32" fill="#eba24f"/>
<rect x="95.66" y="640.87" width="3.32" height="3.32" fill="#eba24f"/>
<rect x="92.34" y="644.2" width="3.32" height="3.32" fill="#eba24f"/>
<rect x="95.66" y="647.53" width="3.32" height="3.32" fill="#eba24f"/>
<path d="M94 617.85L94.68 619.67L96.62 619.75L95.09 620.96L95.62 622.82L94 621.75L92.38 622.82L92.91 620.96L91.38 619.75L93.32 619.67Z" fill="#111"/>
<path d="M109.6 612.51V627.19M107.2 627.19H112" stroke="#333" stroke-width="1" fill="none"/>
<path d="M107.2 612.51H112" stroke="#777" stroke-width="1" fill="none"/>
<path d="M109.6 610.5L111.61 614.12L107.59 614.12Z" fill="#62b0cf"/>
<path d="M106.91 612.17L108.93 615.79L104.9 615.79Z" fill="#62b0cf"/>
<path d="M109.6 617.17L111.61 620.79L107.59 620.79Z" fill="#62b0cf"/>
<path d="M107.38 618.84L109.39 622.46L105.36 622.46Z" fill="#62b0cf"/>
<path d="M112.93 622.17L114.94 625.8L110.91 625.8Z" fill="#62b0cf"/>
<path d="M106.28 623.84L108.29 627.46L104.26 627.46Z" fill="#62b0cf"/>
<text x="109.6" y="597.9" font-size="9" text-anchor="middle" fill="#111" >#</text>
<path d="M125.2 610.18V626.85M122.8 626.85H127.6" stroke="#333" stroke-width="1" fill="none"/>
<path d="M122.8 610.18H127.6" stroke="#777" stroke-width="1" fill="none"/>
<path d="M125.2 602.28L127.09 604.17L125.2 606.06L123.31 604.17Z" fill="#28309e"/>
<path d="M125.2 611.62L127.09 613.51L125.2 615.4L123.31 613.51Z" fill="#28309e"/>
<path d="M125.2 618.96L127.09 620.85L125.2 622.74L123.31 620.85Z" fill="#28309e"/>
<path d="M128.53 622.3L130.41 624.19L128.53 626.08L126.64 624.19Z" fill="#28309e"/>
<path d="M121.88 623.96L123.77 625.85L121.88 627.74L119.98 625.85Z" fill="#28309e"/>
<path d="M122.99 623.96L124.88 625.85L122.99 627.74L121.1 625.85Z" fill="#28309e"/>
<text x="125.2" y="590.8" font-size="9" text-anchor="middle" fill="#111" >#</text>
<path d="M68.5 587.5V654.2" stroke="#2b2b2b" stroke-width="1.3" fill="none"/>
<path d="M65 654.2H135.1" stroke="#2b2b2b" stroke-width="1.3" fill="none"/>
<path d="M65.2 587.5H68.5" stroke="#2b2b2b" stroke-width="1.2"/>
<text x="58.9" y="592.7" font-size="13" text-anchor="middle" fill="#111" >2</text>
<path d="M65.2 620.85H68.5" stroke="#2b2b2b" stroke-width="1.2"/>
<text x="58.9" y="626.05" font-size="13" text-anchor="middle" fill="#111" >1</text>
<path d="M65.2 654.2H68.5" stroke="#2b2b2b" stroke-width="1.2"/>
<text x="58.9" y="659.4" font-size="13" text-anchor="middle" fill="#111" >0</text>
<path d="M66 604.17H68.5" stroke="#2b2b2b" stroke-width="1.1"/>
<path d="M66 637.53H68.5" stroke="#2b2b2b" stroke-width="1.1"/>
<path d="M78.4 654.2V657.7" stroke="#2b2b2b" stroke-width="1.1"/>
<text transform="translate(82.4,667.2) rotate(-45)" font-size="13.3" text-anchor="end" fill="#111" >CK</text>
<path d="M94 654.2V657.7" stroke="#2b2b2b" stroke-width="1.1"/>
<text transform="translate(101.4,667.2) rotate(-45)" font-size="13.3" text-anchor="end" fill="#111" >GEM</text>
<path d="M109.6 654.2V657.7" stroke="#2b2b2b" stroke-width="1.1"/>
<text transform="translate(120.4,667.2) rotate(-45)" font-size="13.3" text-anchor="end" fill="#111" >GEM+LR</text>
<path d="M125.2 654.2V657.7" stroke="#2b2b2b" stroke-width="1.1"/>
<text transform="translate(139.4,667.2) rotate(-45)" font-size="13.3" text-anchor="end" fill="#111" >GEM+HR</text>
<text transform="translate(25.5,623.3) rotate(-90)" font-size="13.4" text-anchor="middle" fill="#111" >Cell</text>
<text transform="translate(42,623.3) rotate(-90)" font-size="13.4" text-anchor="middle" fill="#111" >number (10<tspan dy="-4.5" font-size="9">8</tspan><tspan dy="4.5"> )</tspan></text>
<rect x="209.4" y="632.52" width="10.4" height="21.68" fill="#e09497"/>
<rect x="225" y="638.36" width="10.4" height="15.84" fill="#f1d3ab"/>
<rect x="240.6" y="621.68" width="10.4" height="32.52" fill="#bedcec"/>
<rect x="256.2" y="623.35" width="10.4" height="30.85" fill="#a297ec"/>
<path d="M214.6 628.35V636.69M212.2 636.69H217" stroke="#333" stroke-width="1" fill="none"/>
<path d="M212.2 628.35H217" stroke="#777" stroke-width="1" fill="none"/>
<circle cx="214.6" cy="626.69" r="1.75" fill="#b8504c"/>
<circle cx="214.48" cy="627.52" r="1.75" fill="#b8504c"/>
<circle cx="217.92" cy="630.86" r="1.75" fill="#b8504c"/>
<circle cx="211.27" cy="632.52" r="1.75" fill="#b8504c"/>
<circle cx="214.6" cy="635.86" r="1.75" fill="#b8504c"/>
<circle cx="217.92" cy="639.19" r="1.75" fill="#b8504c"/>
<path d="M230.2 634.19V642.53M227.8 642.53H232.6" stroke="#333" stroke-width="1" fill="none"/>
<path d="M227.8 634.19H232.6" stroke="#777" stroke-width="1" fill="none"/>
<rect x="228.54" y="630.86" width="3.32" height="3.32" fill="#eba24f"/>
<rect x="231.86" y="635.03" width="3.32" height="3.32" fill="#eba24f"/>
<rect x="225.21" y="636.7" width="3.32" height="3.32" fill="#eba24f"/>
<rect x="228.54" y="640.03" width="3.32" height="3.32" fill="#eba24f"/>
<rect x="229.28" y="642.53" width="3.32" height="3.32" fill="#eba24f"/>
<rect x="231.86" y="645.87" width="3.32" height="3.32" fill="#eba24f"/>
<path d="M230.2 618.85L230.88 620.67L232.82 620.75L231.29 621.96L231.82 623.82L230.2 622.75L228.58 623.82L229.11 621.96L227.58 620.75L229.52 620.67Z" fill="#111"/>
<path d="M245.8 611.68V631.69M243.4 631.69H248.2" stroke="#333" stroke-width="1" fill="none"/>
<path d="M243.4 611.68H248.2" stroke="#777" stroke-width="1" fill="none"/>
<path d="M245.8 602.16L247.81 605.78L243.79 605.78Z" fill="#62b0cf"/>
<path d="M245.8 617.17L247.81 620.79L243.79 620.79Z" fill="#62b0cf"/>
<path d="M249.12 620.5L251.14 624.13L247.11 624.13Z" fill="#62b0cf"/>
<path d="M245.8 623.84L247.81 627.46L243.79 627.46Z" fill="#62b0cf"/>
<path d="M249.12 627.17L251.14 630.8L247.11 630.8Z" fill="#62b0cf"/>
<path d="M242.47 628.84L244.49 632.47L240.46 632.47Z" fill="#62b0cf"/>
<text x="245.8" y="599.6" font-size="9" text-anchor="middle" fill="#111" >#</text>
<path d="M261.4 615.01V631.69M259 631.69H263.8" stroke="#333" stroke-width="1" fill="none"/>
<path d="M259 615.01H263.8" stroke="#777" stroke-width="1" fill="none"/>
<path d="M261.4 607.29L263.29 609.18L261.4 611.07L259.51 609.18Z" fill="#28309e"/>
<path d="M261.4 618.13L263.29 620.02L261.4 621.91L259.51 620.02Z" fill="#28309e"/>
<path d="M259.43 620.63L261.32 622.52L259.43 624.41L257.54 622.52Z" fill="#28309e"/>
<path d="M264.72 623.13L266.61 625.02L264.72 626.91L262.83 625.02Z" fill="#28309e"/>
<path d="M258.07 625.63L259.96 627.52L258.07 629.41L256.19 627.52Z" fill="#28309e"/>
<path d="M261.4 629.8L263.29 631.69L261.4 633.58L259.51 631.69Z" fill="#28309e"/>
<text x="261.4" y="591.8" font-size="9" text-anchor="middle" fill="#111" >#</text>
<path d="M204.7 587.5V654.2" stroke="#2b2b2b" stroke-width="1.3" fill="none"/>
<path d="M201.2 654.2H271.3" stroke="#2b2b2b" stroke-width="1.3" fill="none"/>
<path d="M201.4 587.5H204.7" stroke="#2b2b2b" stroke-width="1.2"/>
<text x="196.3" y="592.7" font-size="13" text-anchor="middle" fill="#111" >8</text>
<path d="M201.4 620.85H204.7" stroke="#2b2b2b" stroke-width="1.2"/>
<text x="196.3" y="626.05" font-size="13" text-anchor="middle" fill="#111" >4</text>
<path d="M201.4 654.2H204.7" stroke="#2b2b2b" stroke-width="1.2"/>
<text x="196.3" y="659.4" font-size="13" text-anchor="middle" fill="#111" >0</text>
<path d="M202.2 604.17H204.7" stroke="#2b2b2b" stroke-width="1.1"/>
<path d="M202.2 637.53H204.7" stroke="#2b2b2b" stroke-width="1.1"/>
<path d="M214.6 654.2V657.7" stroke="#2b2b2b" stroke-width="1.1"/>
<text transform="translate(218.6,667.2) rotate(-45)" font-size="13.3" text-anchor="end" fill="#111" >CK</text>
<path d="M230.2 654.2V657.7" stroke="#2b2b2b" stroke-width="1.1"/>
<text transform="translate(237.6,667.2) rotate(-45)" font-size="13.3" text-anchor="end" fill="#111" >GEM</text>
<path d="M245.8 654.2V657.7" stroke="#2b2b2b" stroke-width="1.1"/>
<text transform="translate(256.6,667.2) rotate(-45)" font-size="13.3" text-anchor="end" fill="#111" >GEM+LR</text>
<path d="M261.4 654.2V657.7" stroke="#2b2b2b" stroke-width="1.1"/>
<text transform="translate(275.6,667.2) rotate(-45)" font-size="13.3" text-anchor="end" fill="#111" >GEM+HR</text>
<text transform="translate(166,623.3) rotate(-90)" font-size="13.4" text-anchor="middle" fill="#111" >CD3+</text>
<text transform="translate(182.2,623.3) rotate(-90)" font-size="13.4" text-anchor="middle" fill="#111" >number&#160; (10<tspan dy="-4.5" font-size="9">7</tspan><tspan dy="4.5"> )</tspan></text>
<rect x="343.3" y="633.63" width="10.4" height="20.57" fill="#e09497"/>
<rect x="358.9" y="643.08" width="10.4" height="11.12" fill="#f1d3ab"/>
<rect x="374.5" y="623.07" width="10.4" height="31.13" fill="#bedcec"/>
<rect x="390.1" y="624.74" width="10.4" height="29.46" fill="#a297ec"/>
<path d="M348.5 629.74V637.53M346.1 637.53H350.9" stroke="#333" stroke-width="1" fill="none"/>
<path d="M346.1 629.74H350.9" stroke="#777" stroke-width="1" fill="none"/>
<circle cx="348.5" cy="626.41" r="1.75" fill="#b8504c"/>
<circle cx="348.5" cy="631.97" r="1.75" fill="#b8504c"/>
<circle cx="344.38" cy="633.08" r="1.75" fill="#b8504c"/>
<circle cx="347.83" cy="634.19" r="1.75" fill="#b8504c"/>
<circle cx="351.82" cy="636.41" r="1.75" fill="#b8504c"/>
<circle cx="345.18" cy="638.64" r="1.75" fill="#b8504c"/>
<path d="M364.1 636.41V649.75M361.7 649.75H366.5" stroke="#333" stroke-width="1" fill="none"/>
<path d="M361.7 636.41H366.5" stroke="#777" stroke-width="1" fill="none"/>
<rect x="362.44" y="628.08" width="3.32" height="3.32" fill="#eba24f"/>
<rect x="362.44" y="636.97" width="3.32" height="3.32" fill="#eba24f"/>
<rect x="365.76" y="640.31" width="3.32" height="3.32" fill="#eba24f"/>
<rect x="362.44" y="643.64" width="3.32" height="3.32" fill="#eba24f"/>
<rect x="361.35" y="645.87" width="3.32" height="3.32" fill="#eba24f"/>
<rect x="365.76" y="648.09" width="3.32" height="3.32" fill="#eba24f"/>
<path d="M361.6 615.75L362.28 617.57L364.22 617.65L362.69 618.86L363.22 620.72L361.6 619.65L359.98 620.72L360.51 618.86L358.98 617.65L360.92 617.57Z" fill="#111"/>
<path d="M366.6 615.75L367.28 617.57L369.22 617.65L367.69 618.86L368.22 620.72L366.6 619.65L364.98 620.72L365.51 618.86L363.98 617.65L365.92 617.57Z" fill="#111"/>
<path d="M379.7 610.85V635.3M377.3 635.3H382.1" stroke="#333" stroke-width="1" fill="none"/>
<path d="M377.3 610.85H382.1" stroke="#777" stroke-width="1" fill="none"/>
<path d="M379.7 599.94L381.71 603.56L377.69 603.56Z" fill="#62b0cf"/>
<path d="M379.7 609.94L381.71 613.57L377.69 613.57Z" fill="#62b0cf"/>
<path d="M379.7 619.95L381.71 623.57L377.69 623.57Z" fill="#62b0cf"/>
<path d="M379.7 625.51L381.71 629.13L377.69 629.13Z" fill="#62b0cf"/>
<path d="M379.7 631.07L381.71 634.69L377.69 634.69Z" fill="#62b0cf"/>
<path d="M380.25 632.18L382.26 635.8L378.24 635.8Z" fill="#62b0cf"/>
<text x="379.7" y="594.9" font-size="9" text-anchor="middle" fill="#111" >#</text>
<path d="M395.3 613.62V635.86M392.9 635.86H397.7" stroke="#333" stroke-width="1" fill="none"/>
<path d="M392.9 613.62H397.7" stroke="#777" stroke-width="1" fill="none"/>
<path d="M395.3 604.51L397.19 606.4L395.3 608.29L393.41 606.4Z" fill="#28309e"/>
<path d="M395.3 616.74L397.19 618.63L395.3 620.52L393.41 618.63Z" fill="#28309e"/>
<path d="M399.06 617.85L400.95 619.74L399.06 621.63L397.17 619.74Z" fill="#28309e"/>
<path d="M395.3 625.63L397.19 627.52L395.3 629.41L393.41 627.52Z" fill="#28309e"/>
<path d="M395.3 631.19L397.19 633.08L395.3 634.97L393.41 633.08Z" fill="#28309e"/>
<path d="M396.88 633.41L398.77 635.3L396.88 637.19L394.99 635.3Z" fill="#28309e"/>
<text x="395.3" y="588.7" font-size="9" text-anchor="middle" fill="#111" >#</text>
<path d="M338.6 587.5V654.2" stroke="#2b2b2b" stroke-width="1.3" fill="none"/>
<path d="M335.1 654.2H405.2" stroke="#2b2b2b" stroke-width="1.3" fill="none"/>
<path d="M335.3 587.5H338.6" stroke="#2b2b2b" stroke-width="1.2"/>
<text x="329.8" y="592.7" font-size="13" text-anchor="middle" fill="#111" >6</text>
<path d="M335.3 620.85H338.6" stroke="#2b2b2b" stroke-width="1.2"/>
<text x="329.8" y="626.05" font-size="13" text-anchor="middle" fill="#111" >3</text>
<path d="M335.3 654.2H338.6" stroke="#2b2b2b" stroke-width="1.2"/>
<text x="329.8" y="659.4" font-size="13" text-anchor="middle" fill="#111" >0</text>
<path d="M336.1 604.17H338.6" stroke="#2b2b2b" stroke-width="1.1"/>
<path d="M336.1 637.53H338.6" stroke="#2b2b2b" stroke-width="1.1"/>
<path d="M348.5 654.2V657.7" stroke="#2b2b2b" stroke-width="1.1"/>
<text transform="translate(352.5,667.2) rotate(-45)" font-size="13.3" text-anchor="end" fill="#111" >CK</text>
<path d="M364.1 654.2V657.7" stroke="#2b2b2b" stroke-width="1.1"/>
<text transform="translate(371.5,667.2) rotate(-45)" font-size="13.3" text-anchor="end" fill="#111" >GEM</text>
<path d="M379.7 654.2V657.7" stroke="#2b2b2b" stroke-width="1.1"/>
<text transform="translate(390.5,667.2) rotate(-45)" font-size="13.3" text-anchor="end" fill="#111" >GEM+LR</text>
<path d="M395.3 654.2V657.7" stroke="#2b2b2b" stroke-width="1.1"/>
<text transform="translate(409.5,667.2) rotate(-45)" font-size="13.3" text-anchor="end" fill="#111" >GEM+HR</text>
<text transform="translate(299.8,623.3) rotate(-90)" font-size="13.4" text-anchor="middle" fill="#111" >CD4+</text>
<text transform="translate(315.7,623.3) rotate(-90)" font-size="13.4" text-anchor="middle" fill="#111" >number&#160; (10<tspan dy="-4.5" font-size="9">7</tspan><tspan dy="4.5"> )</tspan></text>
<rect x="482.8" y="629.74" width="10.4" height="24.46" fill="#e09497"/>
<rect x="498.4" y="636.97" width="10.4" height="17.23" fill="#f1d3ab"/>
<rect x="514" y="619.74" width="10.4" height="34.46" fill="#bedcec"/>
<rect x="529.6" y="620.29" width="10.4" height="33.91" fill="#a297ec"/>
<path d="M488 625.85V633.63M485.6 633.63H490.4" stroke="#333" stroke-width="1" fill="none"/>
<path d="M485.6 625.85H490.4" stroke="#777" stroke-width="1" fill="none"/>
<circle cx="488" cy="624.19" r="1.75" fill="#b8504c"/>
<circle cx="488.13" cy="624.74" r="1.75" fill="#b8504c"/>
<circle cx="488.98" cy="626.41" r="1.75" fill="#b8504c"/>
<circle cx="491.32" cy="630.3" r="1.75" fill="#b8504c"/>
<circle cx="488" cy="633.08" r="1.75" fill="#b8504c"/>
<circle cx="489.46" cy="634.19" r="1.75" fill="#b8504c"/>
<path d="M503.6 629.74V644.2M501.2 644.2H506" stroke="#333" stroke-width="1" fill="none"/>
<path d="M501.2 629.74H506" stroke="#777" stroke-width="1" fill="none"/>
<rect x="501.94" y="622.52" width="3.32" height="3.32" fill="#eba24f"/>
<rect x="501.94" y="629.19" width="3.32" height="3.32" fill="#eba24f"/>
<rect x="501.94" y="634.75" width="3.32" height="3.32" fill="#eba24f"/>
<rect x="498.24" y="636.97" width="3.32" height="3.32" fill="#eba24f"/>
<rect x="501.94" y="640.31" width="3.32" height="3.32" fill="#eba24f"/>
<rect x="501.94" y="646.98" width="3.32" height="3.32" fill="#eba24f"/>
<path d="M519.2 603.06V636.41M516.8 636.41H521.6" stroke="#333" stroke-width="1" fill="none"/>
<path d="M516.8 603.06H521.6" stroke="#777" stroke-width="1" fill="none"/>
<path d="M519.2 589.93L521.21 593.56L517.19 593.56Z" fill="#62b0cf"/>
<path d="M519.2 606.61L521.21 610.23L517.19 610.23Z" fill="#62b0cf"/>
<path d="M519.2 626.06L521.21 629.69L517.19 629.69Z" fill="#62b0cf"/>
<path d="M522.52 627.17L524.53 630.8L520.5 630.8Z" fill="#62b0cf"/>
<path d="M519.2 632.18L521.21 635.8L517.19 635.8Z" fill="#62b0cf"/>
<path d="M521.52 633.29L523.54 636.91L519.51 636.91Z" fill="#62b0cf"/>
<text x="519.2" y="587.7" font-size="9" text-anchor="middle" fill="#111" >#</text>
<path d="M534.8 611.96V628.63M532.4 628.63H537.2" stroke="#333" stroke-width="1" fill="none"/>
<path d="M532.4 611.96H537.2" stroke="#777" stroke-width="1" fill="none"/>
<path d="M534.8 603.95L536.69 605.84L534.8 607.73L532.91 605.84Z" fill="#28309e"/>
<path d="M534.8 617.85L536.69 619.74L534.8 621.63L532.91 619.74Z" fill="#28309e"/>
<path d="M537.91 618.96L539.8 620.85L537.91 622.74L536.02 620.85Z" fill="#28309e"/>
<path d="M537.27 620.07L539.16 621.96L537.27 623.85L535.38 621.96Z" fill="#28309e"/>
<path d="M534.8 624.52L536.69 626.41L534.8 628.3L532.91 626.41Z" fill="#28309e"/>
<path d="M533.91 626.19L535.8 628.08L533.91 629.97L532.02 628.08Z" fill="#28309e"/>
<text x="534.8" y="599" font-size="9" text-anchor="middle" fill="#111" >#</text>
<path d="M478.1 587.5V654.2" stroke="#888" stroke-width="1.3" fill="none"/>
<path d="M474.6 654.2H544.7" stroke="#2b2b2b" stroke-width="1.3" fill="none"/>
<path d="M474.8 587.5H478.1" stroke="#888" stroke-width="1.2"/>
<text x="466.5" y="592.7" font-size="13" text-anchor="middle" fill="#111" >12</text>
<path d="M474.8 620.85H478.1" stroke="#888" stroke-width="1.2"/>
<text x="466.5" y="626.05" font-size="13" text-anchor="middle" fill="#111" >6</text>
<path d="M474.8 654.2H478.1" stroke="#888" stroke-width="1.2"/>
<text x="466.5" y="659.4" font-size="13" text-anchor="middle" fill="#111" >0</text>
<path d="M475.6 604.17H478.1" stroke="#888" stroke-width="1.1"/>
<path d="M475.6 637.53H478.1" stroke="#888" stroke-width="1.1"/>
<path d="M488 654.2V657.7" stroke="#2b2b2b" stroke-width="1.1"/>
<text transform="translate(492,667.2) rotate(-45)" font-size="13.3" text-anchor="end" fill="#111" >CK</text>
<path d="M503.6 654.2V657.7" stroke="#2b2b2b" stroke-width="1.1"/>
<text transform="translate(511,667.2) rotate(-45)" font-size="13.3" text-anchor="end" fill="#111" >GEM</text>
<path d="M519.2 654.2V657.7" stroke="#2b2b2b" stroke-width="1.1"/>
<text transform="translate(530,667.2) rotate(-45)" font-size="13.3" text-anchor="end" fill="#111" >GEM+LR</text>
<path d="M534.8 654.2V657.7" stroke="#2b2b2b" stroke-width="1.1"/>
<text transform="translate(549,667.2) rotate(-45)" font-size="13.3" text-anchor="end" fill="#111" >GEM+HR</text>
<text transform="translate(434.9,623.3) rotate(-90)" font-size="13.4" text-anchor="middle" fill="#111" >CD8+</text>
<text transform="translate(451.2,623.3) rotate(-90)" font-size="13.4" text-anchor="middle" fill="#111" >number&#160; (10<tspan dy="-4.5" font-size="9">6</tspan><tspan dy="4.5"> )</tspan></text>
<rect x="616.6" y="627.52" width="10.4" height="26.68" fill="#e09497"/>
<rect x="632.2" y="643.53" width="10.4" height="10.67" fill="#f1d3ab"/>
<rect x="647.8" y="628.19" width="10.4" height="26.01" fill="#bedcec"/>
<rect x="663.4" y="615.18" width="10.4" height="39.02" fill="#a297ec"/>
<path d="M621.8 618.18V636.86M619.4 636.86H624.2" stroke="#333" stroke-width="1" fill="none"/>
<path d="M619.4 618.18H624.2" stroke="#777" stroke-width="1" fill="none"/>
<circle cx="621.8" cy="611.85" r="1.75" fill="#b8504c"/>
<circle cx="621.8" cy="621.85" r="1.75" fill="#b8504c"/>
<circle cx="621.8" cy="626.85" r="1.75" fill="#b8504c"/>
<circle cx="620.96" cy="628.19" r="1.75" fill="#b8504c"/>
<circle cx="621.8" cy="634.86" r="1.75" fill="#b8504c"/>
<circle cx="621.8" cy="640.86" r="1.75" fill="#b8504c"/>
<path d="M637.4 636.19V650.87M635 650.87H639.8" stroke="#333" stroke-width="1" fill="none"/>
<path d="M635 636.19H639.8" stroke="#777" stroke-width="1" fill="none"/>
<rect x="635.74" y="632.53" width="3.32" height="3.32" fill="#eba24f"/>
<rect x="632.45" y="634.2" width="3.32" height="3.32" fill="#eba24f"/>
<rect x="635.74" y="642.53" width="3.32" height="3.32" fill="#eba24f"/>
<rect x="636.85" y="643.2" width="3.32" height="3.32" fill="#eba24f"/>
<rect x="632.41" y="645.87" width="3.32" height="3.32" fill="#eba24f"/>
<rect x="635.74" y="649.2" width="3.32" height="3.32" fill="#eba24f"/>
<path d="M634.9 621.05L635.58 622.87L637.52 622.95L635.99 624.16L636.52 626.02L634.9 624.95L633.28 626.02L633.81 624.16L632.28 622.95L634.22 622.87Z" fill="#111"/>
<path d="M639.9 621.05L640.58 622.87L642.52 622.95L640.99 624.16L641.52 626.02L639.9 624.95L638.28 626.02L638.81 624.16L637.28 622.95L639.22 622.87Z" fill="#111"/>
<path d="M653 617.51V638.86M650.6 638.86H655.4" stroke="#333" stroke-width="1" fill="none"/>
<path d="M650.6 617.51H655.4" stroke="#777" stroke-width="1" fill="none"/>
<path d="M653 607.16L655.01 610.79L650.99 610.79Z" fill="#62b0cf"/>
<path d="M653 624.84L655.01 628.46L650.99 628.46Z" fill="#62b0cf"/>
<path d="M649.37 625.51L651.38 629.13L647.35 629.13Z" fill="#62b0cf"/>
<path d="M656.33 628.84L658.34 632.47L654.31 632.47Z" fill="#62b0cf"/>
<path d="M653 632.18L655.01 635.8L650.99 635.8Z" fill="#62b0cf"/>
<path d="M656.33 635.51L658.34 639.14L654.31 639.14Z" fill="#62b0cf"/>
<text x="653" y="601.3" font-size="9" text-anchor="middle" fill="#111" >#</text>
<path d="M668.6 601.17V629.19M666.2 629.19H671" stroke="#333" stroke-width="1" fill="none"/>
<path d="M666.2 601.17H671" stroke="#777" stroke-width="1" fill="none"/>
<path d="M668.6 594.95L670.49 596.84L668.6 598.73L666.71 596.84Z" fill="#28309e"/>
<path d="M665.01 594.95L666.9 596.84L665.01 598.73L663.12 596.84Z" fill="#28309e"/>
<path d="M668.6 612.29L670.49 614.18L668.6 616.07L666.71 614.18Z" fill="#28309e"/>
<path d="M668.6 623.96L670.49 625.85L668.6 627.74L666.71 625.85Z" fill="#28309e"/>
<path d="M666.18 625.63L668.07 627.52L666.18 629.41L664.29 627.52Z" fill="#28309e"/>
<path d="M665.8 626.3L667.69 628.19L665.8 630.08L663.91 628.19Z" fill="#28309e"/>
<text x="668.6" y="587.5" font-size="9" text-anchor="middle" fill="#111" >#</text>
<path d="M611.9 587.5V654.2" stroke="#777" stroke-width="1.3" fill="none"/>
<path d="M608.4 654.2H678.5" stroke="#2b2b2b" stroke-width="1.3" fill="none"/>
<path d="M608.6 587.5H611.9" stroke="#777" stroke-width="1.2"/>
<text x="603.7" y="592.7" font-size="13" text-anchor="middle" fill="#111" >2</text>
<path d="M608.6 620.85H611.9" stroke="#777" stroke-width="1.2"/>
<text x="603.7" y="626.05" font-size="13" text-anchor="middle" fill="#111" >1</text>
<path d="M608.6 654.2H611.9" stroke="#777" stroke-width="1.2"/>
<text x="603.7" y="659.4" font-size="13" text-anchor="middle" fill="#111" >0</text>
<path d="M609.4 604.17H611.9" stroke="#777" stroke-width="1.1"/>
<path d="M609.4 637.53H611.9" stroke="#777" stroke-width="1.1"/>
<path d="M621.8 654.2V657.7" stroke="#2b2b2b" stroke-width="1.1"/>
<text transform="translate(625.8,667.2) rotate(-45)" font-size="13.3" text-anchor="end" fill="#111" >CK</text>
<path d="M637.4 654.2V657.7" stroke="#2b2b2b" stroke-width="1.1"/>
<text transform="translate(644.8,667.2) rotate(-45)" font-size="13.3" text-anchor="end" fill="#111" >GEM</text>
<path d="M653 654.2V657.7" stroke="#2b2b2b" stroke-width="1.1"/>
<text transform="translate(663.8,667.2) rotate(-45)" font-size="13.3" text-anchor="end" fill="#111" >GEM+LR</text>
<path d="M668.6 654.2V657.7" stroke="#2b2b2b" stroke-width="1.1"/>
<text transform="translate(682.8,667.2) rotate(-45)" font-size="13.3" text-anchor="end" fill="#111" >GEM+HR</text>
<text transform="translate(572.2,621.5) rotate(-90)" font-size="13.4" text-anchor="middle" fill="#111" >F4/80+</text>
<text transform="translate(588.5,621.5) rotate(-90)" font-size="13.4" text-anchor="middle" fill="#111" >number&#160; (10<tspan dy="-4.5" font-size="9">6</tspan><tspan dy="4.5"> )</tspan></text>
<rect x="46.7" y="787.72" width="10.8" height="23.49" fill="#e09497"/>
<rect x="62.1" y="806.06" width="10.8" height="5.14" fill="#f1d3ab"/>
<rect x="77.5" y="776.98" width="10.8" height="34.22" fill="#bedcec"/>
<rect x="92.9" y="767.81" width="10.8" height="43.39" fill="#a297ec"/>
<path d="M52.1 781V794.43M49.7 794.43H54.5" stroke="#333" stroke-width="1" fill="none"/>
<path d="M49.7 781H54.5" stroke="#777" stroke-width="1" fill="none"/>
<circle cx="52.1" cy="778.77" r="1.75" fill="#b8504c"/>
<circle cx="52.1" cy="788.83" r="1.75" fill="#b8504c"/>
<circle cx="50.71" cy="789.95" r="1.75" fill="#b8504c"/>
<circle cx="55.42" cy="793.31" r="1.75" fill="#b8504c"/>
<path d="M67.5 804.94V807.17M65.1 807.17H69.9" stroke="#333" stroke-width="1" fill="none"/>
<path d="M65.1 804.94H69.9" stroke="#777" stroke-width="1" fill="none"/>
<rect x="65.84" y="801.71" width="3.32" height="3.32" fill="#eba24f"/>
<rect x="61.94" y="803.95" width="3.32" height="3.32" fill="#eba24f"/>
<rect x="69.16" y="805.51" width="3.32" height="3.32" fill="#eba24f"/>
<rect x="61.49" y="806.18" width="3.32" height="3.32" fill="#eba24f"/>
<path d="M67.5 791.45L68.18 793.27L70.12 793.35L68.59 794.56L69.12 796.42L67.5 795.35L65.88 796.42L66.41 794.56L64.88 793.35L66.82 793.27Z" fill="#111"/>
<path d="M82.9 768.03V785.93M80.5 785.93H85.3" stroke="#333" stroke-width="1" fill="none"/>
<path d="M80.5 768.03H85.3" stroke="#777" stroke-width="1" fill="none"/>
<path d="M82.9 765.57L84.91 769.2L80.89 769.2Z" fill="#62b0cf"/>
<path d="M82.9 772.28L84.91 775.91L80.89 775.91Z" fill="#62b0cf"/>
<path d="M82.9 781.23L84.91 784.85L80.89 784.85Z" fill="#62b0cf"/>
<path d="M86.23 784.58L88.24 788.21L84.21 788.21Z" fill="#62b0cf"/>
<text x="82.9" y="762.4" font-size="9" text-anchor="middle" fill="#111" >#</text>
<path d="M98.3 757.74V777.87M95.9 777.87H100.7" stroke="#333" stroke-width="1" fill="none"/>
<path d="M95.9 757.74H100.7" stroke="#777" stroke-width="1" fill="none"/>
<path d="M98.3 752.28L100.19 754.17L98.3 756.06L96.41 754.17Z" fill="#28309e"/>
<path d="M98.3 763.46L100.19 765.35L98.3 767.24L96.41 765.35Z" fill="#28309e"/>
<path d="M98.3 771.29L100.19 773.18L98.3 775.07L96.41 773.18Z" fill="#28309e"/>
<path d="M101.63 774.64L103.52 776.53L101.63 778.42L99.74 776.53Z" fill="#28309e"/>
<text x="98.3" y="746" font-size="9" text-anchor="middle" fill="#111" >#</text>
<path d="M42.3 744.1V811.2" stroke="#2b2b2b" stroke-width="1.3" fill="none"/>
<path d="M38.8 811.2H109.8" stroke="#2b2b2b" stroke-width="1.3" fill="none"/>
<path d="M39 744.1H42.3" stroke="#2b2b2b" stroke-width="1.2"/>
<text x="34.1" y="749.3" font-size="13" text-anchor="middle" fill="#111" >3</text>
<path d="M39 766.47H42.3" stroke="#2b2b2b" stroke-width="1.2"/>
<text x="34.1" y="771.67" font-size="13" text-anchor="middle" fill="#111" >2</text>
<path d="M39 788.83H42.3" stroke="#2b2b2b" stroke-width="1.2"/>
<text x="34.1" y="794.03" font-size="13" text-anchor="middle" fill="#111" >1</text>
<path d="M39 811.2H42.3" stroke="#2b2b2b" stroke-width="1.2"/>
<text x="34.1" y="816.4" font-size="13" text-anchor="middle" fill="#111" >0</text>
<path d="M39.8 755.28H42.3" stroke="#2b2b2b" stroke-width="1.1"/>
<path d="M39.8 777.65H42.3" stroke="#2b2b2b" stroke-width="1.1"/>
<path d="M39.8 800.02H42.3" stroke="#2b2b2b" stroke-width="1.1"/>
<path d="M52.1 811.2V814.7" stroke="#2b2b2b" stroke-width="1.1"/>
<text transform="translate(55.1,823.2) rotate(-45)" font-size="13.4" text-anchor="end" fill="#111" >CK</text>
<path d="M67.5 811.2V814.7" stroke="#2b2b2b" stroke-width="1.1"/>
<text transform="translate(74.3,823.2) rotate(-45)" font-size="13.4" text-anchor="end" fill="#111" >GEM</text>
<path d="M82.9 811.2V814.7" stroke="#2b2b2b" stroke-width="1.1"/>
<text transform="translate(93.5,823.2) rotate(-45)" font-size="13.4" text-anchor="end" fill="#111" >GEM+LR</text>
<path d="M98.3 811.2V814.7" stroke="#2b2b2b" stroke-width="1.1"/>
<text transform="translate(112.7,823.2) rotate(-45)" font-size="13.4" text-anchor="end" fill="#111" >GEM+HR</text>
<text transform="translate(25,777) rotate(-90)" font-size="13.4" text-anchor="middle" fill="#111" >mRNA level</text>
<text x="74" y="735.5" font-size="13.6" text-anchor="middle" fill="#111" font-style="italic">Tnf-α</text>
<rect x="161" y="794.43" width="10.8" height="16.77" fill="#e09497"/>
<rect x="176.4" y="806.17" width="10.8" height="5.03" fill="#f1d3ab"/>
<rect x="191.8" y="779.66" width="10.8" height="31.54" fill="#bedcec"/>
<rect x="207.2" y="772.62" width="10.8" height="38.58" fill="#a297ec"/>
<path d="M166.4 791.07V797.78M164 797.78H168.8" stroke="#333" stroke-width="1" fill="none"/>
<path d="M164 791.07H168.8" stroke="#777" stroke-width="1" fill="none"/>
<circle cx="166.4" cy="788.55" r="1.75" fill="#b8504c"/>
<circle cx="166.4" cy="794.43" r="1.75" fill="#b8504c"/>
<circle cx="163.37" cy="796.1" r="1.75" fill="#b8504c"/>
<circle cx="169.72" cy="797.78" r="1.75" fill="#b8504c"/>
<path d="M181.8 804.49V807.85M179.4 807.85H184.2" stroke="#333" stroke-width="1" fill="none"/>
<path d="M179.4 804.49H184.2" stroke="#777" stroke-width="1" fill="none"/>
<rect x="180.14" y="801.15" width="3.32" height="3.32" fill="#eba24f"/>
<rect x="176.67" y="803.67" width="3.32" height="3.32" fill="#eba24f"/>
<rect x="183.46" y="805.34" width="3.32" height="3.32" fill="#eba24f"/>
<rect x="178.95" y="807.02" width="3.32" height="3.32" fill="#eba24f"/>
<path d="M181.8 793.35L182.48 795.17L184.42 795.25L182.89 796.46L183.42 798.32L181.8 797.25L180.18 798.32L180.71 796.46L179.18 795.25L181.12 795.17Z" fill="#111"/>
<path d="M197.2 771.28V788.05M194.8 788.05H199.6" stroke="#333" stroke-width="1" fill="none"/>
<path d="M194.8 771.28H199.6" stroke="#777" stroke-width="1" fill="none"/>
<path d="M197.2 767.25L199.21 770.87L195.19 770.87Z" fill="#62b0cf"/>
<path d="M197.2 778.99L199.21 782.62L195.19 782.62Z" fill="#62b0cf"/>
<path d="M197.2 784.02L199.21 787.65L195.19 787.65Z" fill="#62b0cf"/>
<path d="M200.53 787.38L202.54 791L198.51 791Z" fill="#62b0cf"/>
<text x="197.2" y="762.9" font-size="9" text-anchor="middle" fill="#111" >#</text>
<path d="M212.6 761.71V783.52M210.2 783.52H215" stroke="#333" stroke-width="1" fill="none"/>
<path d="M210.2 761.71H215" stroke="#777" stroke-width="1" fill="none"/>
<path d="M212.6 755.63L214.49 757.52L212.6 759.41L210.71 757.52Z" fill="#28309e"/>
<path d="M212.6 774.08L214.49 775.97L212.6 777.86L210.71 775.97Z" fill="#28309e"/>
<path d="M208.47 775.76L210.36 777.65L208.47 779.54L206.58 777.65Z" fill="#28309e"/>
<path d="M212.6 779.12L214.49 781L212.6 782.89L210.71 781Z" fill="#28309e"/>
<text x="212.6" y="751.1" font-size="9" text-anchor="middle" fill="#111" >#</text>
<path d="M156.6 744.1V811.2" stroke="#2b2b2b" stroke-width="1.3" fill="none"/>
<path d="M153.1 811.2H224.1" stroke="#2b2b2b" stroke-width="1.3" fill="none"/>
<path d="M153.3 744.1H156.6" stroke="#2b2b2b" stroke-width="1.2"/>
<text x="148.5" y="749.3" font-size="13" text-anchor="middle" fill="#111" >4</text>
<path d="M153.3 777.65H156.6" stroke="#2b2b2b" stroke-width="1.2"/>
<text x="148.5" y="782.85" font-size="13" text-anchor="middle" fill="#111" >2</text>
<path d="M153.3 811.2H156.6" stroke="#2b2b2b" stroke-width="1.2"/>
<text x="148.5" y="816.4" font-size="13" text-anchor="middle" fill="#111" >0</text>
<path d="M154.1 760.88H156.6" stroke="#2b2b2b" stroke-width="1.1"/>
<path d="M154.1 794.43H156.6" stroke="#2b2b2b" stroke-width="1.1"/>
<path d="M166.4 811.2V814.7" stroke="#2b2b2b" stroke-width="1.1"/>
<text transform="translate(169.4,823.2) rotate(-45)" font-size="13.4" text-anchor="end" fill="#111" >CK</text>
<path d="M181.8 811.2V814.7" stroke="#2b2b2b" stroke-width="1.1"/>
<text transform="translate(188.6,823.2) rotate(-45)" font-size="13.4" text-anchor="end" fill="#111" >GEM</text>
<path d="M197.2 811.2V814.7" stroke="#2b2b2b" stroke-width="1.1"/>
<text transform="translate(207.8,823.2) rotate(-45)" font-size="13.4" text-anchor="end" fill="#111" >GEM+LR</text>
<path d="M212.6 811.2V814.7" stroke="#2b2b2b" stroke-width="1.1"/>
<text transform="translate(227,823.2) rotate(-45)" font-size="13.4" text-anchor="end" fill="#111" >GEM+HR</text>
<text transform="translate(139.5,777) rotate(-90)" font-size="13.4" text-anchor="middle" fill="#111" >mRNA level</text>
<text x="187.5" y="735.5" font-size="13.6" text-anchor="middle" fill="#111" font-style="italic">Il-1β</text>
<rect x="275.1" y="776.98" width="10.8" height="34.22" fill="#e09497"/>
<rect x="290.5" y="802.14" width="10.8" height="9.06" fill="#f1d3ab"/>
<rect x="305.9" y="785.37" width="10.8" height="25.83" fill="#bedcec"/>
<rect x="321.3" y="767.59" width="10.8" height="43.62" fill="#a297ec"/>
<path d="M280.5 770.27V783.69M278.1 783.69H282.9" stroke="#333" stroke-width="1" fill="none"/>
<path d="M278.1 770.27H282.9" stroke="#777" stroke-width="1" fill="none"/>
<circle cx="280.5" cy="769.26" r="1.75" fill="#b8504c"/>
<circle cx="280.5" cy="774.3" r="1.75" fill="#b8504c"/>
<circle cx="280.5" cy="781" r="1.75" fill="#b8504c"/>
<circle cx="283.76" cy="782.68" r="1.75" fill="#b8504c"/>
<path d="M295.9 801.13V803.15M293.5 803.15H298.3" stroke="#333" stroke-width="1" fill="none"/>
<path d="M293.5 801.13H298.3" stroke="#777" stroke-width="1" fill="none"/>
<rect x="294.24" y="800.14" width="3.32" height="3.32" fill="#eba24f"/>
<rect x="295.23" y="801.15" width="3.32" height="3.32" fill="#eba24f"/>
<rect x="291.18" y="802.16" width="3.32" height="3.32" fill="#eba24f"/>
<rect x="292.08" y="802.83" width="3.32" height="3.32" fill="#eba24f"/>
<path d="M295.9 789.15L296.58 790.97L298.52 791.05L296.99 792.26L297.52 794.12L295.9 793.05L294.28 794.12L294.81 792.26L293.28 791.05L295.22 790.97Z" fill="#111"/>
<path d="M311.3 778.66V792.08M308.9 792.08H313.7" stroke="#333" stroke-width="1" fill="none"/>
<path d="M308.9 778.66H313.7" stroke="#777" stroke-width="1" fill="none"/>
<path d="M311.3 775.64L313.31 779.26L309.29 779.26Z" fill="#62b0cf"/>
<path d="M311.3 782.35L313.31 785.97L309.29 785.97Z" fill="#62b0cf"/>
<path d="M311.3 788.39L313.31 792.01L309.29 792.01Z" fill="#62b0cf"/>
<path d="M309.97 788.39L311.98 792.01L307.96 792.01Z" fill="#62b0cf"/>
<text x="311.3" y="767" font-size="9" text-anchor="middle" fill="#111" >#</text>
<path d="M326.7 759.2V775.97M324.3 775.97H329.1" stroke="#333" stroke-width="1" fill="none"/>
<path d="M324.3 759.2H329.1" stroke="#777" stroke-width="1" fill="none"/>
<path d="M326.7 757.31L328.59 759.2L326.7 761.09L324.81 759.2Z" fill="#28309e"/>
<path d="M326.7 764.02L328.59 765.91L326.7 767.8L324.81 765.91Z" fill="#28309e"/>
<path d="M326.7 770.73L328.59 772.62L326.7 774.51L324.81 772.62Z" fill="#28309e"/>
<path d="M326.7 775.76L328.59 777.65L326.7 779.54L324.81 777.65Z" fill="#28309e"/>
<text x="326.7" y="748.3" font-size="9" text-anchor="middle" fill="#111" >#</text>
<path d="M270.7 744.1V811.2" stroke="#888" stroke-width="1.3" fill="none"/>
<path d="M267.2 811.2H338.2" stroke="#2b2b2b" stroke-width="1.3" fill="none"/>
<path d="M267.4 744.1H270.7" stroke="#888" stroke-width="1.2"/>
<text x="262.9" y="749.3" font-size="13" text-anchor="middle" fill="#111" >2</text>
<path d="M267.4 777.65H270.7" stroke="#888" stroke-width="1.2"/>
<text x="262.9" y="782.85" font-size="13" text-anchor="middle" fill="#111" >1</text>
<path d="M267.4 811.2H270.7" stroke="#888" stroke-width="1.2"/>
<text x="262.9" y="816.4" font-size="13" text-anchor="middle" fill="#111" >0</text>
<path d="M268.2 760.88H270.7" stroke="#888" stroke-width="1.1"/>
<path d="M268.2 794.43H270.7" stroke="#888" stroke-width="1.1"/>
<path d="M280.5 811.2V814.7" stroke="#2b2b2b" stroke-width="1.1"/>
<text transform="translate(283.5,823.2) rotate(-45)" font-size="13.4" text-anchor="end" fill="#111" >CK</text>
<path d="M295.9 811.2V814.7" stroke="#2b2b2b" stroke-width="1.1"/>
<text transform="translate(302.7,823.2) rotate(-45)" font-size="13.4" text-anchor="end" fill="#111" >GEM</text>
<path d="M311.3 811.2V814.7" stroke="#2b2b2b" stroke-width="1.1"/>
<text transform="translate(321.9,823.2) rotate(-45)" font-size="13.4" text-anchor="end" fill="#111" >GEM+LR</text>
<path d="M326.7 811.2V814.7" stroke="#2b2b2b" stroke-width="1.1"/>
<text transform="translate(341.1,823.2) rotate(-45)" font-size="13.4" text-anchor="end" fill="#111" >GEM+HR</text>
<text transform="translate(254.5,777) rotate(-90)" font-size="13.4" text-anchor="middle" fill="#111" >mRNA level</text>
<text x="301" y="735.5" font-size="13.6" text-anchor="middle" fill="#111" font-style="italic">Il-6</text>
<rect x="389.8" y="753.49" width="10.8" height="57.71" fill="#e09497"/>
<rect x="405.2" y="792.08" width="10.8" height="19.12" fill="#f1d3ab"/>
<rect x="420.6" y="770.94" width="10.8" height="40.26" fill="#bedcec"/>
<rect x="436" y="767.59" width="10.8" height="43.62" fill="#a297ec"/>
<path d="M395.2 750.14V756.85M392.8 756.85H397.6" stroke="#333" stroke-width="1" fill="none"/>
<path d="M392.8 750.14H397.6" stroke="#777" stroke-width="1" fill="none"/>
<circle cx="395.2" cy="748.13" r="1.75" fill="#b8504c"/>
<circle cx="394.02" cy="749.47" r="1.75" fill="#b8504c"/>
<circle cx="395.2" cy="754.84" r="1.75" fill="#b8504c"/>
<circle cx="391.92" cy="756.18" r="1.75" fill="#b8504c"/>
<path d="M410.6 786.71V797.44M408.2 797.44H413" stroke="#333" stroke-width="1" fill="none"/>
<path d="M408.2 786.71H413" stroke="#777" stroke-width="1" fill="none"/>
<rect x="408.94" y="782.7" width="3.32" height="3.32" fill="#eba24f"/>
<rect x="408.94" y="787.39" width="3.32" height="3.32" fill="#eba24f"/>
<rect x="408.94" y="794.78" width="3.32" height="3.32" fill="#eba24f"/>
<rect x="411.97" y="795.45" width="3.32" height="3.32" fill="#eba24f"/>
<path d="M408.1 769.85L408.78 771.67L410.72 771.75L409.19 772.96L409.72 774.82L408.1 773.75L406.48 774.82L407.01 772.96L405.48 771.75L407.42 771.67Z" fill="#111"/>
<path d="M413.1 769.85L413.78 771.67L415.72 771.75L414.19 772.96L414.72 774.82L413.1 773.75L411.48 774.82L412.01 772.96L410.48 771.75L412.42 771.67Z" fill="#111"/>
<path d="M426 765.57V776.31M423.6 776.31H428.4" stroke="#333" stroke-width="1" fill="none"/>
<path d="M423.6 765.57H428.4" stroke="#777" stroke-width="1" fill="none"/>
<path d="M426 763.56L428.01 767.18L423.99 767.18Z" fill="#62b0cf"/>
<path d="M430.29 765.57L432.3 769.2L428.28 769.2Z" fill="#62b0cf"/>
<path d="M426 770.27L428.01 773.89L423.99 773.89Z" fill="#62b0cf"/>
<path d="M429.32 773.62L431.34 777.25L427.31 777.25Z" fill="#62b0cf"/>
<text x="426" y="758.2" font-size="9" text-anchor="middle" fill="#111" >#</text>
<path d="M441.4 758.19V776.98M439 776.98H443.8" stroke="#333" stroke-width="1" fill="none"/>
<path d="M439 758.19H443.8" stroke="#777" stroke-width="1" fill="none"/>
<path d="M441.4 757.64L443.29 759.53L441.4 761.42L439.51 759.53Z" fill="#28309e"/>
<path d="M441.4 767.04L443.29 768.93L441.4 770.82L439.51 768.93Z" fill="#28309e"/>
<path d="M444.72 770.39L446.61 772.28L444.72 774.17L442.83 772.28Z" fill="#28309e"/>
<path d="M438.07 771.06L439.96 772.95L438.07 774.84L436.18 772.95Z" fill="#28309e"/>
<text x="441.4" y="748.8" font-size="9" text-anchor="middle" fill="#111" >#</text>
<path d="M385.4 744.1V811.2" stroke="#2b2b2b" stroke-width="1.3" fill="none"/>
<path d="M381.9 811.2H452.9" stroke="#2b2b2b" stroke-width="1.3" fill="none"/>
<path d="M382.1 744.1H385.4" stroke="#2b2b2b" stroke-width="1.2"/>
<text x="370.3" y="749.3" font-size="13" text-anchor="middle" fill="#111" >100</text>
<path d="M382.1 777.65H385.4" stroke="#2b2b2b" stroke-width="1.2"/>
<text x="370.3" y="782.85" font-size="13" text-anchor="middle" fill="#111" >50</text>
<path d="M382.1 811.2H385.4" stroke="#2b2b2b" stroke-width="1.2"/>
<text x="370.3" y="816.4" font-size="13" text-anchor="middle" fill="#111" >0</text>
<path d="M382.9 760.88H385.4" stroke="#2b2b2b" stroke-width="1.1"/>
<path d="M382.9 794.43H385.4" stroke="#2b2b2b" stroke-width="1.1"/>
<path d="M395.2 811.2V814.7" stroke="#2b2b2b" stroke-width="1.1"/>
<text transform="translate(398.2,823.2) rotate(-45)" font-size="13.4" text-anchor="end" fill="#111" >CK</text>
<path d="M410.6 811.2V814.7" stroke="#2b2b2b" stroke-width="1.1"/>
<text transform="translate(417.4,823.2) rotate(-45)" font-size="13.4" text-anchor="end" fill="#111" >GEM</text>
<path d="M426 811.2V814.7" stroke="#2b2b2b" stroke-width="1.1"/>
<text transform="translate(436.6,823.2) rotate(-45)" font-size="13.4" text-anchor="end" fill="#111" >GEM+LR</text>
<path d="M441.4 811.2V814.7" stroke="#2b2b2b" stroke-width="1.1"/>
<text transform="translate(455.8,823.2) rotate(-45)" font-size="13.4" text-anchor="end" fill="#111" >GEM+HR</text>
<text transform="translate(358.7,778) rotate(-90)" font-size="13.4" text-anchor="middle" fill="#111" >pg/mL</text>
<text x="416" y="735.5" font-size="13.6" text-anchor="middle" fill="#111" >TNF-α</text>
<rect x="504" y="769.68" width="10.8" height="41.52" fill="#e09497"/>
<rect x="519.4" y="790.23" width="10.8" height="20.97" fill="#f1d3ab"/>
<rect x="534.8" y="779.75" width="10.8" height="31.45" fill="#bedcec"/>
<rect x="550.2" y="773.46" width="10.8" height="37.74" fill="#a297ec"/>
<path d="M509.4 762.13V777.23M507 777.23H511.8" stroke="#333" stroke-width="1" fill="none"/>
<path d="M507 762.13H511.8" stroke="#777" stroke-width="1" fill="none"/>
<circle cx="509.4" cy="762.55" r="1.75" fill="#b8504c"/>
<circle cx="509.4" cy="767.59" r="1.75" fill="#b8504c"/>
<circle cx="509.4" cy="773.46" r="1.75" fill="#b8504c"/>
<circle cx="509.1" cy="775.97" r="1.75" fill="#b8504c"/>
<path d="M524.8 785.2V795.26M522.4 795.26H527.2" stroke="#333" stroke-width="1" fill="none"/>
<path d="M522.4 785.2H527.2" stroke="#777" stroke-width="1" fill="none"/>
<rect x="523.14" y="782.7" width="3.32" height="3.32" fill="#eba24f"/>
<rect x="526.46" y="786.05" width="3.32" height="3.32" fill="#eba24f"/>
<rect x="523.14" y="791.09" width="3.32" height="3.32" fill="#eba24f"/>
<rect x="526.46" y="794.44" width="3.32" height="3.32" fill="#eba24f"/>
<path d="M522.3 772.65L522.98 774.47L524.92 774.55L523.39 775.76L523.92 777.62L522.3 776.55L520.68 777.62L521.21 775.76L519.68 774.55L521.62 774.47Z" fill="#111"/>
<path d="M527.3 772.65L527.98 774.47L529.92 774.55L528.39 775.76L528.92 777.62L527.3 776.55L525.68 777.62L526.21 775.76L524.68 774.55L526.62 774.47Z" fill="#111"/>
<path d="M540.2 773.88V785.62M537.8 785.62H542.6" stroke="#333" stroke-width="1" fill="none"/>
<path d="M537.8 773.88H542.6" stroke="#777" stroke-width="1" fill="none"/>
<path d="M540.2 771.44L542.21 775.07L538.19 775.07Z" fill="#62b0cf"/>
<path d="M543.52 775.64L545.54 779.26L541.51 779.26Z" fill="#62b0cf"/>
<path d="M540.2 778.99L542.21 782.62L538.19 782.62Z" fill="#62b0cf"/>
<path d="M543.52 782.35L545.54 785.97L541.51 785.97Z" fill="#62b0cf"/>
<text x="540.2" y="764.2" font-size="9" text-anchor="middle" fill="#111" >##</text>
<path d="M555.6 771.78V775.13M553.2 775.13H558" stroke="#333" stroke-width="1" fill="none"/>
<path d="M553.2 771.78H558" stroke="#777" stroke-width="1" fill="none"/>
<path d="M555.6 767.37L557.49 769.26L555.6 771.15L553.71 769.26Z" fill="#28309e"/>
<path d="M558.93 770.73L560.82 772.62L558.93 774.51L557.04 772.62Z" fill="#28309e"/>
<path d="M552.27 772.41L554.16 774.3L552.27 776.19L550.38 774.3Z" fill="#28309e"/>
<path d="M555.46 772.41L557.35 774.3L555.46 776.19L553.57 774.3Z" fill="#28309e"/>
<text x="555.6" y="754.8" font-size="9" text-anchor="middle" fill="#111" >#</text>
<path d="M499.6 744.1V811.2" stroke="#2b2b2b" stroke-width="1.3" fill="none"/>
<path d="M496.1 811.2H567.1" stroke="#2b2b2b" stroke-width="1.3" fill="none"/>
<path d="M496.3 744.1H499.6" stroke="#2b2b2b" stroke-width="1.2"/>
<text x="488" y="749.3" font-size="13" text-anchor="middle" fill="#111" >80</text>
<path d="M496.3 777.65H499.6" stroke="#2b2b2b" stroke-width="1.2"/>
<text x="488" y="782.85" font-size="13" text-anchor="middle" fill="#111" >40</text>
<path d="M496.3 811.2H499.6" stroke="#2b2b2b" stroke-width="1.2"/>
<text x="488" y="816.4" font-size="13" text-anchor="middle" fill="#111" >0</text>
<path d="M497.1 760.88H499.6" stroke="#2b2b2b" stroke-width="1.1"/>
<path d="M497.1 794.43H499.6" stroke="#2b2b2b" stroke-width="1.1"/>
<path d="M509.4 811.2V814.7" stroke="#2b2b2b" stroke-width="1.1"/>
<text transform="translate(512.4,823.2) rotate(-45)" font-size="13.4" text-anchor="end" fill="#111" >CK</text>
<path d="M524.8 811.2V814.7" stroke="#2b2b2b" stroke-width="1.1"/>
<text transform="translate(531.6,823.2) rotate(-45)" font-size="13.4" text-anchor="end" fill="#111" >GEM</text>
<path d="M540.2 811.2V814.7" stroke="#2b2b2b" stroke-width="1.1"/>
<text transform="translate(550.8,823.2) rotate(-45)" font-size="13.4" text-anchor="end" fill="#111" >GEM+LR</text>
<path d="M555.6 811.2V814.7" stroke="#2b2b2b" stroke-width="1.1"/>
<text transform="translate(570,823.2) rotate(-45)" font-size="13.4" text-anchor="end" fill="#111" >GEM+HR</text>
<text transform="translate(477.5,778) rotate(-90)" font-size="13.4" text-anchor="middle" fill="#111" >pg/mL</text>
<text x="531.8" y="735.5" font-size="13.6" text-anchor="middle" fill="#111" >IL-1β</text>
<rect x="617.3" y="760.2" width="10.8" height="51" fill="#e09497"/>
<rect x="632.7" y="791.74" width="10.8" height="19.46" fill="#f1d3ab"/>
<rect x="648.1" y="774.3" width="10.8" height="36.9" fill="#bedcec"/>
<rect x="663.5" y="771.95" width="10.8" height="39.25" fill="#a297ec"/>
<path d="M622.7 750.81V769.6M620.3 769.6H625.1" stroke="#333" stroke-width="1" fill="none"/>
<path d="M620.3 750.81H625.1" stroke="#777" stroke-width="1" fill="none"/>
<circle cx="622.7" cy="749.47" r="1.75" fill="#b8504c"/>
<circle cx="622.7" cy="757.52" r="1.75" fill="#b8504c"/>
<circle cx="622.7" cy="768.26" r="1.75" fill="#b8504c"/>
<circle cx="619.1" cy="769.6" r="1.75" fill="#b8504c"/>
<path d="M638.1 787.04V796.44M635.7 796.44H640.5" stroke="#333" stroke-width="1" fill="none"/>
<path d="M635.7 787.04H640.5" stroke="#777" stroke-width="1" fill="none"/>
<rect x="636.44" y="782.7" width="3.32" height="3.32" fill="#eba24f"/>
<rect x="636.44" y="789.41" width="3.32" height="3.32" fill="#eba24f"/>
<rect x="639.76" y="792.76" width="3.32" height="3.32" fill="#eba24f"/>
<rect x="633.11" y="794.78" width="3.32" height="3.32" fill="#eba24f"/>
<path d="M638.1 773.05L638.78 774.87L640.72 774.95L639.19 776.16L639.72 778.02L638.1 776.95L636.48 778.02L637.01 776.16L635.48 774.95L637.42 774.87Z" fill="#111"/>
<path d="M653.5 772.28V776.31M651.1 776.31H655.9" stroke="#333" stroke-width="1" fill="none"/>
<path d="M651.1 772.28H655.9" stroke="#777" stroke-width="1" fill="none"/>
<path d="M653.5 769.6L655.51 773.22L651.49 773.22Z" fill="#62b0cf"/>
<path d="M650.04 771.61L652.05 775.23L648.03 775.23Z" fill="#62b0cf"/>
<path d="M656.82 773.62L658.84 777.25L654.81 777.25Z" fill="#62b0cf"/>
<path d="M652.13 774.3L654.14 777.92L650.12 777.92Z" fill="#62b0cf"/>
<text x="653.5" y="762.4" font-size="9" text-anchor="middle" fill="#111" >#</text>
<path d="M668.9 767.25V776.64M666.5 776.64H671.3" stroke="#333" stroke-width="1" fill="none"/>
<path d="M666.5 767.25H671.3" stroke="#777" stroke-width="1" fill="none"/>
<path d="M668.9 765.7L670.79 767.59L668.9 769.48L667.01 767.59Z" fill="#28309e"/>
<path d="M666.85 767.04L668.74 768.93L666.85 770.82L664.96 768.93Z" fill="#28309e"/>
<path d="M668.9 772.41L670.79 774.3L668.9 776.19L667.01 774.3Z" fill="#28309e"/>
<path d="M671.76 774.42L673.65 776.31L671.76 778.2L669.87 776.31Z" fill="#28309e"/>
<text x="668.9" y="749.2" font-size="9" text-anchor="middle" fill="#111" >##</text>
<path d="M612.9 744.1V811.2" stroke="#888" stroke-width="1.3" fill="none"/>
<path d="M609.4 811.2H680.4" stroke="#2b2b2b" stroke-width="1.3" fill="none"/>
<path d="M609.6 744.1H612.9" stroke="#888" stroke-width="1.2"/>
<text x="602.3" y="749.3" font-size="13" text-anchor="middle" fill="#111" >10</text>
<path d="M609.6 777.65H612.9" stroke="#888" stroke-width="1.2"/>
<text x="602.3" y="782.85" font-size="13" text-anchor="middle" fill="#111" >5</text>
<path d="M609.6 811.2H612.9" stroke="#888" stroke-width="1.2"/>
<text x="602.3" y="816.4" font-size="13" text-anchor="middle" fill="#111" >0</text>
<path d="M610.4 760.88H612.9" stroke="#888" stroke-width="1.1"/>
<path d="M610.4 794.43H612.9" stroke="#888" stroke-width="1.1"/>
<path d="M622.7 811.2V814.7" stroke="#2b2b2b" stroke-width="1.1"/>
<text transform="translate(625.7,823.2) rotate(-45)" font-size="13.4" text-anchor="end" fill="#111" >CK</text>
<path d="M638.1 811.2V814.7" stroke="#2b2b2b" stroke-width="1.1"/>
<text transform="translate(644.9,823.2) rotate(-45)" font-size="13.4" text-anchor="end" fill="#111" >GEM</text>
<path d="M653.5 811.2V814.7" stroke="#2b2b2b" stroke-width="1.1"/>
<text transform="translate(664.1,823.2) rotate(-45)" font-size="13.4" text-anchor="end" fill="#111" >GEM+LR</text>
<path d="M668.9 811.2V814.7" stroke="#2b2b2b" stroke-width="1.1"/>
<text transform="translate(683.3,823.2) rotate(-45)" font-size="13.4" text-anchor="end" fill="#111" >GEM+HR</text>
<text transform="translate(593.7,778) rotate(-90)" font-size="13.4" text-anchor="middle" fill="#111" >pg/mL</text>
<text x="645.5" y="735.5" font-size="13.6" text-anchor="middle" fill="#111" >IL-6</text>
<clipPath id="c0"><rect x="13.7" y="440.2" width="104.8" height="57.1"/></clipPath>
<g clip-path="url(#c0)">
<rect x="13.7" y="440.2" width="104.8" height="57.1" fill="#b97ed6"/>
<rect x="13.7" y="440.2" width="104.8" height="57.1" filter="url(#nf0)"/>
<g filter="url(#blur3)">
<ellipse cx="38.5" cy="479" rx="9.6" ry="8.8" fill="#8052c6" opacity="0.96"/>
<ellipse cx="70.6" cy="478.1" rx="6.4" ry="6.4" fill="#8052c6" opacity="0.84"/>
<ellipse cx="73" cy="453.3" rx="6" ry="6" fill="#8052c6" opacity="0.78"/>
<ellipse cx="85.1" cy="457.3" rx="5" ry="5" fill="#8052c6" opacity="0.72"/>
<ellipse cx="106.7" cy="460.5" rx="5" ry="5" fill="#8052c6" opacity="0.72"/>
<ellipse cx="101.9" cy="478.1" rx="6" ry="6" fill="#8052c6" opacity="0.72"/>
<ellipse cx="19.2" cy="475.7" rx="5" ry="7" fill="#8052c6" opacity="0.72"/>
<ellipse cx="60.2" cy="450" rx="4" ry="4" fill="#8052c6" opacity="0.6"/>
<ellipse cx="47.3" cy="444.4" rx="4" ry="4" fill="#8052c6" opacity="0.54"/>
<ellipse cx="114.8" cy="447.6" rx="4" ry="4" fill="#8052c6" opacity="0.54"/>
</g>
<rect x="13.7" y="440.2" width="104.8" height="57.1" filter="url(#nf1)"/>
<rect x="26.5" y="463.3" width="54.2" height="27.8" fill="none" stroke="#f2e6f4" stroke-width="0.75" opacity="0.8"/>
<path d="M26.5 480.2 L13.7 497.3 M80.7 480.2 L118.5 497.3" stroke="#f2e6f4" stroke-width="0.7" opacity="0.75"/>
</g>
<text x="15.2" y="454" font-size="13.5" text-anchor="start" fill="#000" >CK</text>
<clipPath id="c1"><rect x="122.3" y="440.2" width="104.8" height="57.1"/></clipPath>
<g clip-path="url(#c1)">
<rect x="122.3" y="440.2" width="104.8" height="57.1" fill="#b97ed6"/>
<rect x="122.3" y="440.2" width="104.8" height="57.1" filter="url(#nf2)"/>
<g filter="url(#blur3)">
<ellipse cx="136.8" cy="468.1" rx="5" ry="5" fill="#8052c6" opacity="0.48"/>
<ellipse cx="164.1" cy="474.5" rx="4.5" ry="4.5" fill="#8052c6" opacity="0.42"/>
<ellipse cx="177" cy="477.7" rx="4.5" ry="4.5" fill="#8052c6" opacity="0.48"/>
<ellipse cx="202.7" cy="452.1" rx="5" ry="5" fill="#8052c6" opacity="0.48"/>
<ellipse cx="215.5" cy="468.1" rx="5" ry="5" fill="#8052c6" opacity="0.48"/>
<ellipse cx="187.3" cy="460.2" rx="4" ry="4" fill="#8052c6" opacity="0.36"/>
</g>
<rect x="122.3" y="440.2" width="104.8" height="57.1" filter="url(#nf3)"/>
<rect x="145.5" y="458.4" width="54.4" height="28.1" fill="none" stroke="#f2e6f4" stroke-width="0.75" opacity="0.8"/>
<path d="M145.5 475.45 L122.3 497.3 M199.9 475.45 L227.1 497.3" stroke="#f2e6f4" stroke-width="0.7" opacity="0.75"/>
</g>
<text x="123.8" y="454" font-size="13.5" text-anchor="start" fill="#000" >GEM</text>
<clipPath id="c2"><rect x="231.4" y="440.2" width="104.8" height="57.1"/></clipPath>
<g clip-path="url(#c2)">
<rect x="231.4" y="440.2" width="104.8" height="57.1" fill="#b97ed6"/>
<rect x="231.4" y="440.2" width="104.8" height="57.1" filter="url(#nf4)"/>
<g filter="url(#blur3)">
<ellipse cx="248.9" cy="481" rx="5.5" ry="5.5" fill="#8052c6" opacity="0.72"/>
<ellipse cx="287.4" cy="476.2" rx="5.5" ry="5.5" fill="#8052c6" opacity="0.72"/>
<ellipse cx="263.3" cy="471.3" rx="4.5" ry="4.5" fill="#8052c6" opacity="0.42"/>
<ellipse cx="324.4" cy="481" rx="6.5" ry="6.5" fill="#8052c6" opacity="0.72"/>
<ellipse cx="314.4" cy="461.7" rx="4.5" ry="4.5" fill="#8052c6" opacity="0.42"/>
<ellipse cx="276.4" cy="454.2" rx="4" ry="4" fill="#8052c6" opacity="0.36"/>
</g>
<rect x="231.4" y="440.2" width="104.8" height="57.1" filter="url(#nf5)"/>
<rect x="244.5" y="460.2" width="53.4" height="28.1" fill="none" stroke="#f2e6f4" stroke-width="0.75" opacity="0.8"/>
<path d="M244.5 477.25 L231.4 497.3 M297.9 477.25 L336.2 497.3" stroke="#f2e6f4" stroke-width="0.7" opacity="0.75"/>
</g>
<text x="232.9" y="454" font-size="13.5" text-anchor="start" fill="#000" >GEM+LR</text>
<clipPath id="c3"><rect x="340.4" y="440.2" width="104.8" height="57.1"/></clipPath>
<g clip-path="url(#c3)">
<rect x="340.4" y="440.2" width="104.8" height="57.1" fill="#b97ed6"/>
<rect x="340.4" y="440.2" width="104.8" height="57.1" filter="url(#nf6)"/>
<g filter="url(#blur3)">
<ellipse cx="421.5" cy="457.3" rx="11" ry="7.5" fill="#8052c6" opacity="1.0"/>
<ellipse cx="397.4" cy="457.3" rx="6" ry="6" fill="#8052c6" opacity="0.9"/>
<ellipse cx="347.6" cy="465.3" rx="8" ry="8" fill="#8052c6" opacity="0.96"/>
<ellipse cx="367.7" cy="469.3" rx="7" ry="7" fill="#8052c6" opacity="0.9"/>
<ellipse cx="347.6" cy="481.4" rx="7" ry="6" fill="#8052c6" opacity="0.9"/>
<ellipse cx="389.4" cy="479.8" rx="4" ry="4" fill="#8052c6" opacity="0.72"/>
<ellipse cx="415.1" cy="478.1" rx="6.5" ry="5.5" fill="#8052c6" opacity="0.9"/>
<ellipse cx="431.1" cy="478.1" rx="5" ry="5" fill="#8052c6" opacity="0.84"/>
<ellipse cx="436.4" cy="460.2" rx="4" ry="4" fill="#8052c6" opacity="0.6"/>
</g>
<rect x="340.4" y="440.2" width="104.8" height="57.1" filter="url(#nf7)"/>
<rect x="390.4" y="444.5" width="48.6" height="26.2" fill="none" stroke="#f2e6f4" stroke-width="0.75" opacity="0.8"/>
<path d="M390.4 460.6 L340.4 497.3 M439 460.6 L445.2 497.3" stroke="#f2e6f4" stroke-width="0.7" opacity="0.75"/>
</g>
<text x="341.9" y="454" font-size="13.5" text-anchor="start" fill="#000" >GEM+HR</text>
<text x="443.5" y="492.5" font-size="8.2" text-anchor="end" fill="#111" style="stroke:none">100 μm</text>
<rect x="430.5" y="494.5" width="8" height="1.6" fill="#fff"/>
<clipPath id="c4"><rect x="13.7" y="502" width="104.8" height="56.6"/></clipPath>
<g clip-path="url(#c4)">
<rect x="13.7" y="502" width="104.8" height="56.6" fill="#b679d4"/>
<rect x="13.7" y="502" width="104.8" height="56.6" filter="url(#nf8)"/>
<g filter="url(#blur4)">
<ellipse cx="29.3" cy="530.1" rx="14" ry="14" fill="#7246bf" opacity="0.55"/>
<ellipse cx="103.1" cy="533.3" rx="11" ry="12" fill="#7246bf" opacity="0.5"/>
<ellipse cx="58.7" cy="510" rx="10" ry="6" fill="#7246bf" opacity="0.25"/>
</g>
<rect x="13.7" y="502" width="104.8" height="56.6" filter="url(#nf9)"/>
</g>
<clipPath id="c5"><rect x="122.3" y="502" width="104.8" height="56.6"/></clipPath>
<g clip-path="url(#c5)">
<rect x="122.3" y="502" width="104.8" height="56.6" fill="#c084d8"/>
<rect x="122.3" y="502" width="104.8" height="56.6" filter="url(#nf10)"/>
<g filter="url(#blur4)">
<ellipse cx="147.3" cy="532" rx="12" ry="10" fill="#7246bf" opacity="0.25"/>
<ellipse cx="182.3" cy="524" rx="12" ry="10" fill="#7246bf" opacity="0.2"/>
<ellipse cx="207.3" cy="542" rx="10" ry="8" fill="#7246bf" opacity="0.2"/>
</g>
<rect x="122.3" y="502" width="104.8" height="56.6" filter="url(#nf11)"/>
</g>
<clipPath id="c6"><rect x="231.4" y="502" width="104.8" height="56.6"/></clipPath>
<g clip-path="url(#c6)">
<rect x="231.4" y="502" width="104.8" height="56.6" fill="#b679d4"/>
<rect x="231.4" y="502" width="104.8" height="56.6" filter="url(#nf12)"/>
<g filter="url(#blur4)">
<ellipse cx="247.3" cy="539.7" rx="12" ry="11" fill="#7246bf" opacity="0.45"/>
<ellipse cx="314.7" cy="533.3" rx="11" ry="12" fill="#7246bf" opacity="0.45"/>
<ellipse cx="271.4" cy="522" rx="10" ry="8" fill="#7246bf" opacity="0.25"/>
</g>
<rect x="231.4" y="502" width="104.8" height="56.6" filter="url(#nf13)"/>
</g>
<clipPath id="c7"><rect x="340.4" y="502" width="104.8" height="56.6"/></clipPath>
<g clip-path="url(#c7)">
<rect x="340.4" y="502" width="104.8" height="56.6" fill="#b679d4"/>
<rect x="340.4" y="502" width="104.8" height="56.6" filter="url(#nf14)"/>
<g filter="url(#blur4)">
<ellipse cx="361.3" cy="531.7" rx="10" ry="10" fill="#7246bf" opacity="0.6"/>
<ellipse cx="406.2" cy="533.3" rx="13" ry="12" fill="#7246bf" opacity="0.6"/>
<ellipse cx="422.4" cy="540" rx="8" ry="8" fill="#7246bf" opacity="0.4"/>
</g>
<rect x="340.4" y="502" width="104.8" height="56.6" filter="url(#nf15)"/>
</g>
<text x="441.3" y="553.5" font-size="8.2" text-anchor="end" fill="#111" style="stroke:none">50 μm</text>
<rect x="428.3" y="555.5" width="8" height="1.6" fill="#fff"/>
<clipPath id="c8"><rect x="463" y="440.6" width="105.2" height="56.7"/></clipPath>
<g clip-path="url(#c8)">
<rect x="463" y="440.6" width="105.2" height="56.7" fill="#b470ce"/>
<rect x="463" y="440.6" width="105.2" height="56.7" filter="url(#nf16)"/>
<rect x="463" y="440.6" width="105.2" height="56.7" filter="url(#nf17)"/>
<g filter="url(#blur1)">
<ellipse transform="translate(523,465.6) rotate(20)" rx="1.5" ry="3" fill="#e48fcb" opacity="0.9"/>
<ellipse transform="translate(553,485.6) rotate(-10)" rx="1.5" ry="3" fill="#e48fcb" opacity="0.9"/>
</g>
<g filter="url(#blur05)">
<ellipse transform="translate(498.7,455.1) rotate(0)" rx="2.75" ry="2.25" fill="#fcf6fc" opacity="0.95"/>
<ellipse transform="translate(540.6,455.1) rotate(0)" rx="2.5" ry="2.25" fill="#fcf6fc" opacity="0.95"/>
<ellipse transform="translate(562.5,473.6) rotate(0)" rx="3.12" ry="2.5" fill="#fcf6fc" opacity="0.95"/>
<ellipse transform="translate(493.6,473.6) rotate(0)" rx="2.75" ry="2.5" fill="#fcf6fc" opacity="0.95"/>
<ellipse transform="translate(513.8,492) rotate(0)" rx="2.5" ry="2" fill="#fcf6fc" opacity="0.95"/>
<ellipse transform="translate(478.5,487) rotate(0)" rx="2.5" ry="2" fill="#fcf6fc" opacity="0.95"/>
<ellipse transform="translate(523,470.6) rotate(0)" rx="1.88" ry="1.5" fill="#fcf6fc" opacity="0.95"/>
<ellipse transform="translate(553,490.6) rotate(0)" rx="1.88" ry="1.5" fill="#fcf6fc" opacity="0.95"/>
<ellipse transform="translate(471,460.6) rotate(0)" rx="1.88" ry="1.5" fill="#fcf6fc" opacity="0.95"/>
</g>
</g>
<text x="467.8" y="456.5" font-size="13.5" text-anchor="start" fill="#000" >CK</text>
<clipPath id="c9"><rect x="571.5" y="440.6" width="107.6" height="56.7"/></clipPath>
<g clip-path="url(#c9)">
<rect x="571.5" y="440.6" width="107.6" height="56.7" fill="#b470ce"/>
<rect x="571.5" y="440.6" width="107.6" height="56.7" filter="url(#nf18)"/>
<rect x="571.5" y="440.6" width="107.6" height="56.7" filter="url(#nf19)"/>
<g filter="url(#blur1)">
<ellipse transform="translate(583.4,488.3) rotate(-8)" rx="3" ry="8.5" fill="#e48fcb" opacity="0.9"/>
<ellipse transform="translate(603.6,484.9) rotate(-5)" rx="3.2" ry="9.5" fill="#e48fcb" opacity="0.9"/>
<ellipse transform="translate(615.3,483.2) rotate(5)" rx="2.5" ry="7.5" fill="#e48fcb" opacity="0.9"/>
<ellipse transform="translate(632.9,488.3) rotate(-3)" rx="3.5" ry="8.5" fill="#e48fcb" opacity="0.9"/>
<ellipse transform="translate(656.8,461.4) rotate(8)" rx="3" ry="7" fill="#e48fcb" opacity="0.9"/>
<ellipse transform="translate(665.1,474.8) rotate(-4)" rx="3.5" ry="10.5" fill="#e48fcb" opacity="0.9"/>
<ellipse transform="translate(677.5,489.9) rotate(0)" rx="3.5" ry="8.5" fill="#e48fcb" opacity="0.9"/>
<ellipse transform="translate(607.1,459.7) rotate(-10)" rx="2.5" ry="5.5" fill="#e48fcb" opacity="0.9"/>
<ellipse transform="translate(587.5,467.6) rotate(10)" rx="2.5" ry="5.5" fill="#e48fcb" opacity="0.9"/>
<ellipse transform="translate(641.5,470.6) rotate(-15)" rx="2.5" ry="6.5" fill="#e48fcb" opacity="0.9"/>
</g>
<g filter="url(#blur05)">
<ellipse transform="translate(629.5,466.6) rotate(-35)" rx="2" ry="6.25" fill="#fcf6fc" opacity="0.95"/>
<ellipse transform="translate(596.5,460.6) rotate(0)" rx="1.88" ry="1.5" fill="#fcf6fc" opacity="0.95"/>
<ellipse transform="translate(671.5,448.6) rotate(0)" rx="1.88" ry="1.5" fill="#fcf6fc" opacity="0.95"/>
<ellipse transform="translate(651.5,485.6) rotate(0)" rx="1.88" ry="1.5" fill="#fcf6fc" opacity="0.95"/>
</g>
</g>
<text x="576.3" y="456.5" font-size="13.5" text-anchor="start" fill="#000" >GEM</text>
<clipPath id="c10"><rect x="463" y="502.8" width="105.2" height="56.7"/></clipPath>
<g clip-path="url(#c10)">
<rect x="463" y="502.8" width="105.2" height="56.7" fill="#b470ce"/>
<rect x="463" y="502.8" width="105.2" height="56.7" filter="url(#nf20)"/>
<rect x="463" y="502.8" width="105.2" height="56.7" filter="url(#nf21)"/>
<g filter="url(#blur1)">
<ellipse transform="translate(508,542.8) rotate(0)" rx="1.5" ry="3" fill="#e48fcb" opacity="0.9"/>
<ellipse transform="translate(538,522.8) rotate(30)" rx="1.5" ry="3" fill="#e48fcb" opacity="0.9"/>
</g>
<g filter="url(#blur05)">
<ellipse transform="translate(483,547.8) rotate(0)" rx="2" ry="1.62" fill="#fcf6fc" opacity="0.95"/>
<ellipse transform="translate(533,542.8) rotate(0)" rx="2.25" ry="1.75" fill="#fcf6fc" opacity="0.95"/>
<ellipse transform="translate(558,527.8) rotate(0)" rx="1.88" ry="1.5" fill="#fcf6fc" opacity="0.95"/>
<ellipse transform="translate(508,522.8) rotate(0)" rx="1.88" ry="1.5" fill="#fcf6fc" opacity="0.95"/>
</g>
</g>
<text x="467.8" y="518.7" font-size="13.5" text-anchor="start" fill="#000" >GEM+LR</text>
<clipPath id="c11"><rect x="571.5" y="502.8" width="107.6" height="56.7"/></clipPath>
<g clip-path="url(#c11)">
<rect x="571.5" y="502.8" width="107.6" height="56.7" fill="#b470ce"/>
<rect x="571.5" y="502.8" width="107.6" height="56.7" filter="url(#nf22)"/>
<rect x="571.5" y="502.8" width="107.6" height="56.7" filter="url(#nf23)"/>
<g filter="url(#blur1)">
<ellipse transform="translate(601.5,537.8) rotate(10)" rx="1.5" ry="3" fill="#e48fcb" opacity="0.9"/>
<ellipse transform="translate(651.5,547.8) rotate(-20)" rx="1.5" ry="3" fill="#e48fcb" opacity="0.9"/>
</g>
<g filter="url(#blur05)">
<ellipse transform="translate(601.5,542.8) rotate(0)" rx="2.25" ry="1.75" fill="#fcf6fc" opacity="0.95"/>
<ellipse transform="translate(656.5,537.8) rotate(0)" rx="2" ry="1.62" fill="#fcf6fc" opacity="0.95"/>
<ellipse transform="translate(631.5,517.8) rotate(0)" rx="1.88" ry="1.5" fill="#fcf6fc" opacity="0.95"/>
<ellipse transform="translate(671.5,550.8) rotate(0)" rx="1.88" ry="1.5" fill="#fcf6fc" opacity="0.95"/>
</g>
</g>
<text x="576.3" y="518.7" font-size="13.5" text-anchor="start" fill="#000" >GEM+HR</text>
<text x="677" y="552" font-size="8.2" text-anchor="end" fill="#111" style="stroke:none">20 μm</text>
<rect x="664" y="554" width="8" height="1.6" fill="#fff"/>
<text x="1" y="14" font-size="18" text-anchor="start" fill="#000" >A</text>
<text x="1.7" y="132" font-size="18" text-anchor="start" fill="#000" >B</text>
<text x="180.5" y="132" font-size="18" text-anchor="start" fill="#000" >C</text>
<text x="349" y="132" font-size="18" text-anchor="start" fill="#000" >D</text>
<text x="522.8" y="132" font-size="18" text-anchor="start" fill="#000" >E</text>
<text x="2" y="284" font-size="18" text-anchor="start" fill="#000" >F</text>
<text x="180.5" y="284" font-size="18" text-anchor="start" fill="#000" >G</text>
<text x="349" y="284" font-size="18" text-anchor="start" fill="#000" >H</text>
<text x="526.5" y="284" font-size="18" text-anchor="start" fill="#000" >I</text>
<text x="2.3" y="435.7" font-size="18" text-anchor="start" fill="#000" >J</text>
<text x="446.5" y="435.5" font-size="18" text-anchor="start" fill="#000" >K</text>
<text x="2" y="576.2" font-size="18" text-anchor="start" fill="#000" >L</text>
<text x="142" y="576.2" font-size="18" text-anchor="start" fill="#000" >M</text>
<text x="279" y="576.2" font-size="18" text-anchor="start" fill="#000" >N</text>
<text x="411.3" y="576.2" font-size="18" text-anchor="start" fill="#000" >O</text>
<text x="550.4" y="576.2" font-size="18" text-anchor="start" fill="#000" >P</text>
<text x="0.5" y="722" font-size="18" text-anchor="start" fill="#000" >Q</text>
<text x="342" y="722" font-size="18" text-anchor="start" fill="#000" >R</text>
</svg></body></html>
